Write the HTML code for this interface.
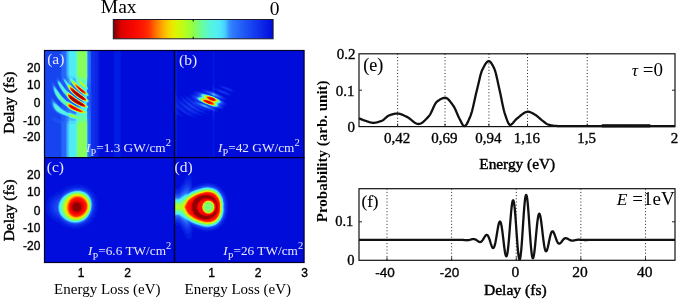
<!DOCTYPE html>
<html><head><meta charset="utf-8"><style>
html,body{margin:0;padding:0;background:#fff;}
body{width:679px;height:302px;overflow:hidden;position:relative;}
svg{position:absolute;left:0;top:0;}
</style></head><body>
<svg width="679" height="302" viewBox="0 0 679 302">
<defs><linearGradient id="cb" x1="0" x2="1" y1="0" y2="0"><stop offset="0.000" stop-color="#780000"/><stop offset="0.025" stop-color="#aa0000"/><stop offset="0.050" stop-color="#dd0000"/><stop offset="0.075" stop-color="#e50200"/><stop offset="0.100" stop-color="#ee0500"/><stop offset="0.125" stop-color="#f60700"/><stop offset="0.150" stop-color="#fb0e00"/><stop offset="0.175" stop-color="#fc1700"/><stop offset="0.200" stop-color="#fe2100"/><stop offset="0.225" stop-color="#ff3500"/><stop offset="0.250" stop-color="#ff5c00"/><stop offset="0.275" stop-color="#ff7f00"/><stop offset="0.300" stop-color="#fea000"/><stop offset="0.325" stop-color="#fcbe00"/><stop offset="0.350" stop-color="#f5d800"/><stop offset="0.375" stop-color="#e7ec00"/><stop offset="0.400" stop-color="#d7f707"/><stop offset="0.425" stop-color="#c5fb13"/><stop offset="0.450" stop-color="#b3ff1f"/><stop offset="0.475" stop-color="#a2ff33"/><stop offset="0.500" stop-color="#90ff48"/><stop offset="0.525" stop-color="#7cff70"/><stop offset="0.550" stop-color="#6bfe96"/><stop offset="0.575" stop-color="#61fab6"/><stop offset="0.600" stop-color="#57f6d6"/><stop offset="0.625" stop-color="#53f2e6"/><stop offset="0.650" stop-color="#51eef1"/><stop offset="0.675" stop-color="#4ee4fb"/><stop offset="0.700" stop-color="#47cdfe"/><stop offset="0.725" stop-color="#3790ff"/><stop offset="0.750" stop-color="#2d78fc"/><stop offset="0.775" stop-color="#286cfa"/><stop offset="0.800" stop-color="#2360f7"/><stop offset="0.825" stop-color="#1e55f5"/><stop offset="0.850" stop-color="#1a4af2"/><stop offset="0.875" stop-color="#153fef"/><stop offset="0.900" stop-color="#1135ec"/><stop offset="0.925" stop-color="#0d2ae9"/><stop offset="0.950" stop-color="#0920e4"/><stop offset="0.975" stop-color="#0416df"/><stop offset="1.000" stop-color="#000cda"/></linearGradient></defs><rect x="113.3" y="19.5" width="159.8" height="19.299999999999997" fill="url(#cb)" stroke="#1a1a2a" stroke-width="1"/><line x1="193.20000000000002" y1="19.5" x2="193.20000000000002" y2="21.5" stroke="#000" stroke-width="1"/><line x1="193.20000000000002" y1="38.8" x2="193.20000000000002" y2="36.8" stroke="#000" stroke-width="1"/><defs><clipPath id="ca"><rect x="44" y="50" width="130.5" height="107"/></clipPath><clipPath id="cb2"><rect x="174.5" y="50" width="130.0" height="107"/></clipPath><clipPath id="cc"><rect x="44" y="157" width="130.5" height="106"/></clipPath><clipPath id="cd"><rect x="174.5" y="157" width="130.0" height="106"/></clipPath><filter id="hb" x="0" y="0" width="1" height="1"><feGaussianBlur stdDeviation="0.65"/></filter></defs><g filter="url(#hb)"><g clip-path="url(#ca)"><rect x="44" y="50" width="130.5" height="107" fill="#000cda"/><path fill-rule="evenodd" fill="#061be2" d="M99.5,157.0 44.0,157.0 44.0,50.0 99.6,50.0 99.5,157.0ZM120.5,157.0 113.6,157.0 113.6,50.0 120.7,50.0 120.7,157.0 120.5,157.0Z"/><path fill-rule="evenodd" fill="#0b25e6" d="M97.5,157.0 44.0,157.0 44.0,50.0 97.8,50.0 97.8,157.0 97.5,157.0Z"/><path fill-rule="evenodd" fill="#0f2fea" d="M94.5,157.0 44.0,157.0 44.0,50.0 94.9,50.0 94.9,157.0 94.5,157.0Z"/><path fill-rule="evenodd" fill="#133aed" d="M91.0,157.0 44.0,157.0 44.0,50.0 91.5,50.0 91.5,86.5 92.3,97.5 91.5,108.0 91.5,157.0 91.0,157.0Z"/><path fill-rule="evenodd" fill="#1745f0" d="M91.0,157.0 44.0,157.0 44.0,50.0 91.2,50.0 91.0,98.5 91.2,110.0 91.2,157.0 91.0,157.0Z"/><path fill-rule="evenodd" fill="#1c4ff3" d="M90.5,157.0 60.5,157.0 60.5,124.0 59.5,124.0 59.0,123.5 58.5,123.5 58.0,123.0 57.5,123.0 57.0,122.5 56.5,122.5 56.0,122.0 55.5,122.0 55.0,121.5 53.5,121.0 52.0,119.5 52.6,118.0 54.0,117.5 56.0,118.0 60.5,119.7 60.7,119.0 60.8,115.5 56.5,113.2 53.4,110.0 51.3,106.0 50.7,103.5 50.6,100.0 50.9,97.5 51.5,97.0 52.5,97.7 58.6,104.5 61.0,106.5 61.1,103.5 56.7,98.5 53.8,93.5 51.7,87.5 51.3,83.5 51.5,80.5 52.0,80.0 52.0,80.5 52.5,80.5 53.6,82.0 58.5,90.5 60.5,93.3 60.9,93.5 61.1,94.0 60.9,90.5 57.3,84.5 55.8,81.0 55.5,79.8 55.1,79.5 55.0,78.5 57.5,77.0 58.5,77.0 60.5,80.8 60.7,80.5 60.5,76.0 60.5,50.0 91.0,50.0 91.0,84.0 90.7,99.0 91.0,110.5 91.0,157.0 90.5,157.0Z"/><path fill-rule="evenodd" fill="#205af6" d="M90.5,157.0 61.2,157.0 61.2,124.0 60.5,121.5 60.6,121.0 61.3,120.5 61.5,120.0 61.7,115.5 57.0,113.0 54.0,110.0 52.7,108.0 51.9,106.0 51.3,103.5 51.1,101.0 51.5,98.6 52.0,98.4 52.5,98.6 58.6,105.0 61.6,107.5 61.9,107.0 62.0,104.0 58.7,100.5 56.7,98.0 54.7,94.5 53.2,91.0 52.3,88.0 52.1,86.0 52.2,84.5 53.0,83.4 53.5,83.5 54.5,84.5 58.5,90.9 61.5,95.0 65.4,99.0 65.7,99.0 65.6,96.0 64.0,94.5 63.0,94.5 62.0,93.5 61.8,91.5 58.0,85.0 56.5,81.0 56.7,79.5 58.0,78.9 59.5,79.9 61.5,82.9 61.7,82.5 61.2,77.0 61.2,50.0 90.8,50.0 90.7,85.5 90.5,90.4 89.8,94.5 89.5,99.0 89.8,103.5 90.0,104.4 90.5,104.7 90.7,110.0 90.8,157.0 90.5,157.0ZM75.7,97.0 73.0,94.5 72.6,94.5 72.6,95.0 75.7,97.0ZM75.7,105.0 73.0,103.0 72.3,103.0 73.0,104.0 75.5,105.5 75.7,105.0Z"/><path fill-rule="evenodd" fill="#2566f8" d="M90.0,157.0 62.0,157.0 62.0,124.5 61.6,122.0 62.0,121.4 63.0,121.5 63.5,121.2 64.9,119.0 65.5,117.0 65.1,116.5 63.0,115.8 58.0,113.2 55.0,110.7 53.7,109.0 52.4,106.5 51.7,104.0 51.5,101.5 52.0,99.6 53.0,99.8 60.4,107.0 63.8,109.5 65.7,110.5 66.1,107.0 65.8,106.5 62.5,103.9 59.0,100.5 56.7,97.5 54.7,94.0 53.3,90.5 52.6,87.5 52.6,85.5 53.0,84.6 53.5,84.4 55.0,85.7 59.5,92.7 63.9,98.0 66.0,99.9 67.5,100.6 68.5,101.4 69.0,101.5 69.4,100.5 69.2,100.0 62.9,92.5 60.8,89.5 57.9,84.5 56.9,81.5 56.9,80.5 57.5,79.7 58.0,79.5 59.0,79.9 64.5,87.6 65.5,88.8 65.9,88.5 65.6,84.5 64.7,83.5 62.7,80.0 61.8,77.5 62.0,50.0 90.5,50.0 90.5,82.5 90.0,84.8 89.0,86.2 88.6,87.5 88.9,89.5 88.5,90.2 87.8,90.5 87.5,91.3 87.5,92.5 88.8,94.0 89.2,95.0 89.2,96.0 88.5,96.7 87.5,96.7 87.4,98.0 87.4,98.5 88.7,100.0 89.2,101.5 88.9,102.5 87.4,103.0 87.5,105.0 88.8,106.5 88.9,107.0 88.9,108.0 88.3,109.0 90.0,109.9 90.5,112.5 90.5,157.0 90.0,157.0ZM78.3,99.0 78.1,98.5 71.5,92.9 71.0,93.0 70.7,93.5 72.3,95.0 76.4,98.0 78.0,99.0 78.3,99.0ZM76.3,105.5 76.4,105.0 72.0,102.2 70.0,100.5 69.6,100.5 69.8,102.0 70.9,103.0 75.2,105.5 76.0,105.9 76.3,105.5Z"/><path fill-rule="evenodd" fill="#2a72fb" d="M89.0,157.0 65.6,157.0 65.5,123.5 65.9,120.5 66.1,116.5 60.5,114.2 56.5,111.7 53.8,108.5 52.8,106.5 52.2,104.5 52.0,101.5 52.5,100.6 53.0,100.6 54.5,101.6 60.6,107.5 66.0,111.1 66.5,111.0 67.5,109.5 68.5,108.7 61.0,102.3 58.4,99.5 56.6,97.0 54.7,93.5 53.3,89.5 52.9,86.5 53.5,85.2 54.0,85.2 55.0,86.2 59.0,92.4 61.5,95.6 66.3,100.5 76.0,106.1 77.0,106.2 77.4,105.5 73.0,102.7 69.6,100.0 67.2,97.5 62.8,92.0 59.8,87.5 57.7,83.5 57.3,81.0 57.5,80.4 58.0,80.1 58.5,80.1 59.5,80.9 64.5,87.9 67.3,91.0 69.0,92.1 74.1,96.5 80.2,100.5 80.3,100.0 80.1,99.5 75.5,96.2 70.0,91.0 69.5,91.5 68.5,89.3 67.5,88.5 66.8,87.5 66.4,85.5 63.9,81.5 62.7,79.0 62.5,78.0 63.0,77.1 64.0,77.3 65.5,79.1 65.8,79.0 65.9,78.5 65.6,75.0 65.6,50.0 89.2,50.0 89.1,78.5 88.8,80.5 87.5,83.1 87.4,86.5 88.5,89.0 88.5,89.5 87.4,90.0 87.3,92.0 87.3,92.5 88.7,94.5 88.9,95.5 88.5,96.4 87.3,96.5 87.1,98.5 88.5,100.0 89.0,101.5 88.5,102.5 87.2,103.0 87.2,105.0 88.6,107.0 88.5,108.0 87.4,109.0 87.4,112.0 87.9,112.5 88.0,114.4 88.8,116.0 89.1,119.5 89.0,157.0ZM76.2,90.0 75.6,88.0 75.0,87.5 74.0,87.5 73.9,88.0 75.4,89.5 76.2,90.0Z"/><path fill-rule="evenodd" fill="#3284fd" d="M87.5,157.0 66.1,157.0 66.1,124.0 66.5,120.3 67.2,117.0 67.0,116.5 61.0,114.1 56.7,111.5 54.2,108.5 53.2,106.5 52.6,104.5 52.5,102.0 53.0,101.5 53.5,101.5 55.0,102.6 61.0,108.1 66.5,111.7 67.5,112.2 68.9,112.0 69.5,110.5 72.5,112.6 75.5,113.4 75.7,112.0 72.5,110.9 69.0,108.8 66.5,106.5 61.5,102.5 57.9,98.5 55.4,94.5 53.8,90.5 53.2,87.0 53.5,86.0 54.0,85.9 55.0,86.7 61.5,95.9 66.5,100.9 68.5,101.8 77.5,107.0 78.2,106.0 78.0,105.5 74.0,103.3 70.0,100.2 67.8,98.0 63.4,92.5 60.3,88.0 57.9,83.5 57.6,81.5 58.0,80.7 58.5,80.6 60.0,81.8 64.0,87.5 67.0,91.0 77.4,99.0 81.5,101.5 81.7,101.0 81.8,100.5 75.0,95.7 69.8,90.5 64.4,82.0 63.3,79.5 63.1,78.5 63.5,78.0 64.0,78.1 67.0,81.2 67.2,81.0 66.5,79.1 66.1,75.0 66.1,50.0 87.8,50.0 87.8,76.5 87.5,78.5 87.2,86.5 88.3,89.0 88.1,89.5 87.1,90.0 87.1,92.0 87.1,92.5 88.6,94.5 88.7,95.5 88.5,96.1 87.0,96.4 86.9,98.5 88.3,100.0 88.8,101.5 88.5,102.2 87.0,102.5 87.0,105.0 88.2,106.5 88.4,107.5 88.3,108.0 87.2,109.0 87.3,112.0 87.6,113.0 87.3,114.5 87.8,124.0 87.8,157.0 87.5,157.0ZM77.7,91.0 76.2,88.5 73.5,85.5 73.0,85.2 72.0,85.6 71.8,86.0 72.2,86.5 74.2,88.5 77.0,91.1 77.5,91.3 77.7,91.0Z"/><path fill-rule="evenodd" fill="#40b2ff" d="M87.0,157.0 66.8,157.0 66.8,125.5 67.2,123.5 68.5,120.6 68.9,117.5 68.8,117.0 68.0,116.5 61.5,114.0 57.0,111.4 54.5,108.5 53.5,106.5 53.0,104.7 53.0,102.8 53.5,102.3 54.0,102.4 55.5,103.4 61.0,108.4 66.0,111.7 67.5,112.5 70.0,112.7 74.7,114.5 75.8,114.5 76.0,112.0 71.5,110.1 69.0,108.5 66.5,106.2 62.0,102.7 58.0,98.3 55.9,95.0 54.4,91.5 53.6,88.0 53.7,87.0 54.0,86.6 54.5,86.7 55.5,87.9 61.5,96.2 66.5,101.2 68.0,101.7 77.5,107.1 78.5,107.4 79.9,106.5 72.5,102.1 70.0,100.1 68.0,98.0 62.8,91.5 59.9,87.0 58.0,83.0 58.0,81.5 58.5,81.1 60.0,82.2 63.7,87.5 66.7,91.0 74.4,97.0 79.5,100.5 82.0,102.0 82.8,102.0 82.9,101.5 83.0,101.0 80.0,99.2 76.0,96.4 70.8,91.5 68.2,88.0 63.8,80.0 63.7,79.0 64.0,78.8 64.5,78.9 67.5,82.4 74.5,89.0 79.9,93.5 82.0,95.0 82.5,95.0 81.0,92.5 80.5,92.4 78.5,90.6 73.2,85.0 71.6,83.0 71.5,82.5 69.5,83.4 68.5,78.7 67.3,76.5 66.8,74.5 66.8,50.0 87.4,50.0 87.4,76.5 87.1,86.5 87.9,88.0 88.0,89.0 87.0,89.5 86.9,92.0 87.0,92.5 88.2,94.0 88.5,95.0 88.5,95.5 88.1,96.0 87.0,96.0 86.8,98.5 88.1,100.0 88.6,101.5 88.0,102.3 86.8,102.5 86.9,105.0 88.1,106.5 88.2,107.5 88.0,108.0 87.0,108.5 87.1,112.0 87.4,113.0 87.1,114.5 87.4,123.5 87.4,157.0 87.0,157.0ZM75.5,82.0 75.5,81.6 75.5,82.0Z"/><path fill-rule="evenodd" fill="#4bd9fd" d="M87.0,157.0 68.5,157.0 68.5,126.0 68.7,124.0 69.5,120.5 72.5,120.7 75.5,120.5 75.6,119.0 74.0,118.9 70.5,117.8 68.0,116.2 62.2,114.0 58.0,111.7 56.5,110.5 55.0,108.7 54.1,107.0 53.5,105.0 53.5,103.5 54.0,103.1 54.5,103.2 56.0,104.3 61.5,109.2 66.5,112.3 67.5,112.9 69.5,112.8 76.1,115.0 76.6,112.5 76.3,112.0 72.0,110.2 69.0,108.4 66.5,106.0 61.6,102.0 58.0,98.0 56.1,95.0 54.6,91.5 54.0,88.5 54.0,87.7 54.5,87.4 56.0,89.0 61.5,96.4 66.5,101.4 68.5,102.1 75.1,106.0 79.1,108.0 80.3,108.0 81.5,107.0 78.5,105.6 73.5,102.7 71.0,100.8 68.5,98.5 66.5,95.6 63.0,91.4 60.5,87.6 58.4,83.5 58.2,82.5 58.5,81.7 59.0,81.7 60.0,82.5 63.2,87.0 66.5,91.1 78.6,100.0 83.5,103.0 83.8,103.0 83.9,102.5 84.2,101.5 80.0,99.1 76.5,96.7 71.4,92.0 68.4,88.0 64.3,80.5 64.2,80.0 64.5,79.5 65.0,79.8 67.8,83.0 69.5,84.2 75.5,90.0 80.5,94.0 84.2,96.5 83.6,94.5 79.0,90.9 73.8,85.5 71.2,82.0 69.6,79.0 68.5,74.5 68.5,50.0 87.2,50.0 87.2,76.5 86.9,86.5 87.8,88.5 87.7,89.0 86.8,89.5 86.8,92.0 88.4,95.0 88.0,95.8 86.8,96.0 86.7,98.5 88.0,100.0 88.4,101.0 88.1,102.0 86.7,102.5 86.7,105.0 88.1,107.0 87.7,108.0 86.8,108.5 87.2,113.0 87.0,114.0 87.2,124.0 87.2,157.0 87.0,157.0ZM76.0,82.5 75.5,78.5 72.0,78.4 75.2,82.0 76.0,82.5Z"/><path fill-rule="evenodd" fill="#50ecf7" d="M87.0,157.0 69.3,157.0 69.5,124.5 75.5,123.4 76.0,119.0 71.0,117.7 69.5,117.0 68.0,115.8 63.1,114.0 58.2,111.5 56.9,110.5 55.6,109.0 54.5,107.2 54.0,105.5 54.0,104.5 54.4,104.0 55.5,104.4 62.0,109.9 67.5,113.2 68.5,112.9 69.5,113.0 76.0,115.2 76.5,115.0 77.5,112.5 72.5,110.3 69.5,108.6 60.4,100.5 57.5,97.0 55.6,93.5 54.4,89.5 54.5,88.4 55.0,88.4 56.0,89.4 61.5,96.7 66.5,101.6 68.5,102.2 75.0,106.0 81.0,109.0 81.5,108.9 82.9,107.5 80.0,106.3 74.5,103.3 71.5,101.2 69.1,99.0 67.8,97.5 66.5,95.4 63.5,91.8 61.0,88.1 58.7,83.5 58.6,82.5 59.0,82.2 60.0,82.9 63.3,87.5 66.5,91.3 68.5,92.5 75.5,98.0 80.0,101.0 84.4,103.5 84.9,103.5 85.0,103.0 85.3,102.0 84.7,101.5 82.0,100.2 78.0,97.7 74.5,94.9 71.5,92.0 68.8,88.5 64.9,81.0 65.0,80.5 67.5,83.1 69.5,84.4 74.9,89.5 78.4,92.5 84.5,96.9 85.4,97.0 85.0,95.0 84.5,94.9 81.5,92.8 76.7,88.5 72.4,83.5 70.3,80.0 69.9,78.5 70.0,78.1 70.5,77.9 76.6,83.5 75.9,78.5 75.0,76.7 74.5,76.1 69.5,75.5 69.3,50.0 87.1,50.0 87.1,76.5 86.8,86.5 87.6,88.5 86.7,89.5 86.6,92.0 86.7,92.5 87.9,94.0 88.2,95.0 88.0,95.6 86.6,96.0 86.5,98.5 87.9,100.0 88.3,101.0 88.0,101.8 86.5,102.5 86.6,105.0 87.9,107.0 87.8,107.5 86.7,108.5 87.1,124.0 87.0,157.0Z"/><path fill-rule="evenodd" fill="#52f0eb" d="M87.5,95.6 85.5,95.3 84.5,94.7 78.5,90.2 73.3,84.5 71.2,81.5 70.4,79.5 70.5,78.4 71.5,78.8 78.2,85.0 77.0,82.0 75.7,77.5 75.6,50.0 87.0,50.0 87.0,76.5 86.7,86.5 87.4,88.5 86.7,89.0 86.6,89.5 86.5,92.0 88.0,94.5 88.0,95.1 87.5,95.6ZM88.0,101.5 87.5,101.9 86.0,102.0 84.0,101.2 79.0,98.3 74.5,94.8 71.6,92.0 69.2,89.0 66.5,83.5 66.3,83.0 66.5,82.5 67.5,83.5 69.5,84.6 78.3,92.5 86.0,98.1 87.7,100.0 88.1,101.0 88.0,101.5ZM86.5,157.0 75.6,157.0 75.6,126.0 76.4,119.0 70.5,117.3 69.1,116.5 68.0,115.3 62.9,113.5 58.1,111.0 56.8,110.0 55.6,108.5 54.8,107.0 54.5,105.5 55.0,104.8 56.0,105.2 62.0,110.3 67.5,113.8 68.5,113.2 69.5,113.2 76.5,115.6 77.0,115.6 78.2,112.5 73.5,110.7 70.0,108.9 68.2,107.5 66.5,105.5 61.1,101.0 58.5,98.0 56.5,95.0 55.0,91.1 55.0,89.3 55.5,89.4 56.5,90.4 62.4,98.0 66.5,101.9 68.5,102.3 75.7,106.5 82.0,109.5 83.0,109.5 84.2,108.0 83.5,107.5 82.5,107.3 80.0,106.2 75.5,103.8 72.5,101.8 69.5,99.3 67.9,97.5 66.5,95.1 62.0,89.3 59.5,84.7 59.1,83.5 59.2,83.0 59.5,82.9 60.0,83.4 66.5,91.6 68.5,92.6 74.0,97.0 78.3,100.0 85.0,104.1 86.0,104.2 87.6,106.5 87.6,107.5 86.6,108.5 87.0,123.5 87.0,157.0 86.5,157.0ZM84.5,90.5 82.5,88.0 80.0,86.3 81.5,88.0 82.5,88.6 84.5,90.5Z"/><path fill-rule="evenodd" fill="#54f4e0" d="M86.0,90.2 84.6,88.0 82.0,85.5 78.5,83.8 76.2,78.0 75.9,74.0 75.9,50.0 86.9,50.0 86.9,76.5 86.6,86.5 87.2,88.0 87.0,88.5 86.3,89.0 86.0,90.2ZM87.5,95.4 86.0,95.3 83.0,93.6 77.4,89.0 74.6,86.0 72.3,83.0 70.9,80.5 70.7,79.0 71.0,78.8 72.0,79.4 79.0,86.0 86.0,91.9 87.6,94.0 87.8,95.0 87.5,95.4ZM87.5,101.7 85.5,101.7 81.5,99.8 77.5,97.2 74.0,94.3 70.8,91.0 68.7,88.0 67.7,85.5 67.5,84.5 67.8,84.0 68.5,84.0 69.5,84.7 77.0,91.5 86.0,98.2 87.9,100.5 88.0,101.0 87.5,101.7ZM86.5,157.0 75.9,157.0 75.9,126.0 77.0,119.0 70.3,117.0 68.8,116.0 67.9,114.5 68.5,113.5 70.0,113.5 77.5,116.1 77.8,116.0 78.5,114.2 80.1,113.5 80.1,113.0 79.0,112.9 78.6,112.5 72.5,110.2 70.0,108.8 68.4,107.5 66.5,105.2 61.4,101.0 58.0,97.0 56.0,93.4 55.4,91.5 55.5,90.3 56.5,90.9 62.1,98.0 66.5,102.1 67.5,102.1 68.5,102.5 76.5,107.0 84.0,110.5 85.9,108.0 84.5,107.9 82.5,107.2 77.5,104.8 74.0,102.8 70.4,100.0 68.0,97.5 66.5,94.8 62.5,89.7 60.5,86.0 60.2,85.0 60.5,84.8 66.5,91.9 68.5,92.7 76.0,98.5 86.0,104.7 87.4,106.5 87.4,107.5 86.1,108.0 86.5,109.6 86.9,123.5 86.9,157.0 86.5,157.0ZM64.5,113.3 60.7,112.0 57.5,110.1 55.7,108.0 55.3,107.0 55.3,106.0 55.5,105.7 56.0,105.8 57.0,106.4 60.5,109.6 64.8,113.0 64.5,113.3Z"/><path fill-rule="evenodd" fill="#5cf8c6" d="M86.5,88.4 85.5,88.2 83.5,86.8 79.0,82.5 77.4,80.0 76.7,78.5 77.1,78.0 76.5,76.5 76.3,74.0 76.2,50.0 86.8,50.0 86.8,76.5 86.5,84.7 86.2,86.0 87.0,88.0 86.5,88.4ZM87.5,95.2 86.0,95.2 84.0,94.2 80.5,91.7 77.5,89.0 74.7,86.0 72.4,83.0 71.0,80.5 71.0,79.3 71.5,79.3 72.5,80.0 78.3,85.5 85.9,92.0 87.5,94.0 87.7,94.5 87.5,95.2ZM87.5,101.6 86.0,101.7 82.5,100.2 78.5,97.8 74.5,94.7 71.3,91.5 69.1,88.5 67.9,86.0 67.8,85.0 68.0,84.3 68.5,84.3 69.5,84.8 77.5,92.0 86.0,98.3 87.7,100.5 87.5,101.6ZM87.0,107.6 85.0,107.8 81.5,106.7 76.5,104.2 71.5,100.9 68.1,97.5 66.5,94.5 63.0,90.0 61.8,87.5 62.0,87.3 62.5,87.8 66.5,92.2 68.5,92.9 76.6,99.0 86.0,105.0 87.3,106.5 87.4,107.0 87.0,107.6ZM86.5,157.0 76.2,157.0 76.3,125.5 76.5,123.2 77.7,119.0 76.7,118.5 73.0,117.8 70.7,117.0 69.1,116.0 68.3,114.5 68.5,113.9 70.0,113.7 78.0,116.3 81.0,115.2 83.0,114.0 82.6,113.5 81.0,113.3 74.0,110.7 71.0,109.3 69.0,107.9 67.6,106.5 66.5,104.9 62.5,101.7 59.0,98.0 56.5,94.0 56.0,92.5 56.0,91.4 57.0,92.0 62.3,98.5 66.5,102.4 67.5,102.3 69.0,102.8 76.3,107.0 85.5,111.5 86.0,110.9 86.5,113.3 86.8,123.5 86.8,157.0 86.5,157.0ZM60.0,110.8 57.5,109.5 56.3,108.0 56.2,107.0 57.0,107.1 58.1,108.0 60.5,110.5 60.0,110.8Z"/><path fill-rule="evenodd" fill="#66fca6" d="M86.5,88.1 85.0,87.7 81.2,84.5 79.3,82.5 77.9,80.5 77.2,79.0 77.5,78.7 78.0,78.8 78.1,78.5 77.0,76.0 76.6,74.0 76.6,50.0 86.7,50.0 86.7,77.0 86.5,81.1 86.0,83.7 82.6,81.0 80.5,80.1 79.5,80.0 81.5,81.6 85.9,86.0 86.7,87.5 86.5,88.1ZM87.0,95.2 85.0,94.7 82.5,93.1 77.1,88.5 74.4,85.5 72.5,83.0 71.2,80.5 71.2,80.0 71.5,79.6 73.0,80.6 85.8,92.0 87.4,94.0 87.5,94.8 87.0,95.2ZM87.0,101.6 86.0,101.6 84.5,101.1 81.5,99.6 78.0,97.4 74.5,94.6 71.9,92.0 69.5,89.0 68.2,86.5 68.0,84.8 68.5,84.5 69.5,85.0 77.4,92.0 86.0,98.5 87.6,100.5 87.5,101.3 87.0,101.6ZM64.0,90.7 64.0,90.2 64.3,90.5 64.0,90.7ZM86.5,107.7 84.5,107.6 80.5,106.1 76.0,103.9 72.0,101.2 69.5,99.0 67.9,97.0 66.5,94.1 64.5,91.5 64.2,91.0 64.5,90.6 66.5,92.6 67.5,92.5 68.5,93.0 76.5,99.0 85.9,105.0 87.2,106.5 87.0,107.4 86.5,107.7ZM85.0,113.8 81.5,113.3 76.5,111.6 72.0,109.7 69.5,108.2 67.7,106.5 66.5,104.5 63.2,102.0 60.0,98.7 57.5,95.3 56.6,93.0 57.0,92.7 57.5,93.1 61.9,98.5 66.5,102.8 67.5,102.4 69.0,102.9 76.2,107.0 84.0,110.8 85.8,112.0 86.0,112.5 86.0,113.2 85.0,113.8ZM86.5,157.0 76.6,157.0 76.6,126.0 76.9,124.0 78.5,119.0 77.9,118.5 73.0,117.6 70.5,116.7 69.0,115.5 68.6,114.5 69.0,114.0 71.0,114.1 79.5,117.1 81.5,117.6 84.0,116.1 86.0,114.3 86.5,117.9 86.7,123.5 86.7,157.0 86.5,157.0Z"/><path fill-rule="evenodd" fill="#72ff85" d="M86.0,80.7 83.0,79.3 78.5,78.0 77.5,75.5 77.3,74.0 77.3,50.0 86.6,50.0 86.6,76.5 86.5,79.0 86.0,80.7ZM86.5,87.5 86.0,87.9 85.0,87.6 82.5,85.7 79.9,83.0 78.4,81.0 77.7,79.5 78.0,79.3 79.0,79.9 82.5,82.8 85.7,86.0 86.5,87.5ZM87.0,95.1 85.5,94.8 83.5,93.7 80.5,91.5 77.7,89.0 72.9,83.5 71.6,81.0 71.5,80.0 72.0,80.1 73.0,80.8 85.7,92.0 87.3,94.0 87.4,94.5 87.0,95.1ZM86.5,101.5 84.0,100.8 81.0,99.3 77.5,96.9 74.0,94.1 71.5,91.5 69.6,89.0 68.3,86.5 68.2,85.0 68.5,84.7 69.0,84.8 70.0,85.5 77.3,92.0 85.9,98.5 87.5,100.5 87.5,101.0 87.0,101.5 86.5,101.5ZM86.5,107.5 85.0,107.6 81.0,106.3 77.0,104.3 73.0,101.9 70.5,99.9 68.3,97.5 66.9,95.0 66.6,93.0 67.5,92.7 68.5,93.1 76.4,99.0 85.0,104.4 86.3,105.5 87.0,106.5 87.1,107.0 86.5,107.5ZM58.0,95.2 58.0,94.7 58.2,95.0 58.0,95.2ZM64.5,102.5 62.0,100.3 59.5,97.5 58.2,95.5 58.5,95.2 64.8,102.0 64.5,102.5ZM65.0,102.8 64.5,102.5 65.0,102.2 65.3,102.5 65.0,102.8ZM65.5,103.1 65.3,103.0 65.5,102.7 65.9,103.0 65.5,103.1ZM84.5,113.5 81.5,113.1 78.0,112.1 74.0,110.6 71.0,109.1 68.8,107.5 67.5,106.0 66.5,104.0 66.7,103.0 67.5,102.6 69.0,103.1 77.0,107.5 84.0,110.9 85.8,112.5 85.5,113.2 84.5,113.5ZM80.5,118.3 76.0,118.0 72.0,117.1 69.8,116.0 69.1,115.0 69.1,114.5 70.0,114.2 71.7,114.5 79.8,117.5 80.8,118.0 80.5,118.3ZM86.5,157.0 77.3,157.0 77.3,126.0 77.5,124.5 78.5,121.4 82.9,120.0 86.0,118.4 86.5,120.6 86.6,123.5 86.5,157.0Z"/><path fill-rule="evenodd" fill="#86ff5c" d="M86.0,78.8 83.0,77.7 79.0,76.8 78.5,76.5 78.2,75.5 77.9,74.0 77.9,50.0 86.5,50.0 86.5,76.0 86.0,78.8ZM86.0,87.7 84.5,87.1 81.4,84.5 78.9,81.5 78.2,80.0 78.5,79.9 79.5,80.5 84.0,84.4 85.9,86.5 86.2,87.5 86.0,87.7ZM87.0,94.8 85.5,94.7 83.5,93.7 78.3,89.5 73.4,84.0 71.9,81.5 71.8,80.5 73.0,81.0 85.1,91.5 86.9,93.5 87.2,94.5 87.0,94.8ZM87.0,101.3 85.0,101.1 82.0,99.8 78.0,97.2 75.0,94.9 72.0,92.0 69.7,89.0 68.4,86.5 68.3,85.5 68.5,85.0 69.0,85.0 70.0,85.6 77.3,92.0 85.8,98.5 87.1,100.0 87.3,101.0 87.0,101.3ZM86.0,107.5 83.5,107.1 80.0,105.8 76.0,103.7 72.0,101.1 69.7,99.0 67.7,96.5 66.9,94.5 66.8,93.5 67.0,93.1 68.0,93.0 69.0,93.5 76.3,99.0 85.7,105.0 86.9,106.5 86.9,107.0 86.0,107.5ZM85.5,113.0 84.5,113.4 82.0,113.1 77.0,111.6 72.5,109.8 70.2,108.5 68.4,107.0 67.3,105.5 66.8,103.5 67.5,102.8 69.5,103.4 76.0,107.1 84.0,111.0 85.3,112.0 85.6,112.5 85.5,113.0ZM78.5,118.0 74.5,117.5 72.2,117.0 70.2,116.0 69.5,114.9 69.8,114.5 70.5,114.4 72.7,115.0 78.8,117.5 78.5,118.0ZM86.0,157.0 77.9,157.0 77.9,126.0 78.1,124.5 78.5,123.2 79.0,122.9 82.5,122.1 86.0,120.9 86.5,124.5 86.5,157.0 86.0,157.0Z"/><path fill-rule="evenodd" fill="#99ff3d" d="M85.5,87.5 83.8,86.5 81.5,84.5 79.4,82.0 78.7,80.5 79.0,80.4 80.5,81.4 84.5,85.0 86.0,87.0 85.5,87.5ZM87.0,94.6 86.0,94.8 84.0,93.9 78.9,90.0 74.2,85.0 72.6,82.5 72.1,81.0 72.5,80.9 73.5,81.5 85.0,91.5 86.8,93.5 87.0,94.6ZM87.0,101.1 85.5,101.2 83.0,100.2 79.5,98.2 75.5,95.2 72.6,92.5 70.4,90.0 68.9,87.5 68.5,85.4 69.0,85.2 70.0,85.8 77.2,92.0 85.2,98.0 87.0,100.0 87.2,100.5 87.0,101.1ZM86.5,107.2 85.5,107.4 84.5,107.3 81.5,106.4 77.0,104.2 73.0,101.7 70.3,99.5 68.5,97.5 67.3,95.5 67.0,93.5 67.5,93.0 69.0,93.6 76.9,99.5 84.9,104.5 86.5,106.0 86.7,106.5 86.5,107.2ZM85.0,113.1 83.0,113.2 80.0,112.5 75.0,110.8 71.5,109.2 69.7,108.0 68.1,106.5 67.2,105.0 67.0,103.5 67.5,103.0 69.0,103.3 76.7,107.5 82.9,110.5 85.1,112.0 85.4,112.5 85.0,113.1ZM76.5,117.4 73.5,117.1 71.5,116.5 70.2,115.5 70.0,115.0 71.0,114.8 73.5,115.5 76.8,117.0 76.5,117.4Z"/><path fill-rule="evenodd" fill="#abff29" d="M85.5,87.2 84.0,86.5 81.7,84.5 79.9,82.5 79.2,81.0 79.5,80.9 81.0,82.0 83.9,84.5 85.6,86.5 85.7,87.0 85.5,87.2ZM86.5,94.7 85.0,94.3 83.0,93.2 78.4,89.5 74.0,84.5 72.5,82.0 72.5,81.3 74.0,82.1 85.0,91.5 86.7,93.5 86.8,94.5 86.5,94.7ZM86.5,101.2 84.5,100.8 81.5,99.4 78.0,97.1 74.5,94.3 71.7,91.5 69.8,89.0 68.7,86.5 68.9,85.5 69.5,85.6 70.5,86.3 77.1,92.0 85.7,98.5 86.6,99.5 87.1,100.5 86.9,101.0 86.5,101.2ZM86.0,107.3 84.0,107.1 80.0,105.7 76.0,103.6 72.5,101.3 69.8,99.0 68.2,97.0 67.2,95.0 67.2,93.5 68.0,93.3 69.0,93.7 76.8,99.5 84.8,104.5 86.4,106.0 86.5,107.0 86.0,107.3ZM84.5,113.1 82.5,113.0 79.0,112.1 75.0,110.7 71.5,109.1 69.8,108.0 68.2,106.5 67.3,105.0 67.2,103.5 68.0,103.1 69.5,103.6 76.5,107.5 83.6,111.0 84.9,112.0 85.1,112.5 84.5,113.1ZM74.5,116.9 72.3,116.5 70.8,115.5 71.5,115.3 72.7,115.5 74.9,116.5 74.5,116.9Z"/><path fill-rule="evenodd" fill="#bcfd19" d="M85.0,87.0 83.5,86.1 81.8,84.5 80.1,82.5 79.8,81.5 81.5,82.5 84.2,85.0 85.3,86.5 85.0,87.0ZM86.5,94.5 85.0,94.3 83.0,93.1 78.5,89.5 74.1,84.5 72.9,82.5 72.8,82.0 73.0,81.7 74.5,82.7 84.9,91.5 86.6,93.5 86.8,94.0 86.5,94.5ZM86.5,101.1 84.5,100.8 82.0,99.6 78.5,97.4 75.0,94.7 72.2,92.0 70.2,89.5 68.9,87.0 69.0,85.7 70.5,86.4 77.0,92.0 85.6,98.5 86.8,100.0 86.9,100.5 86.5,101.1ZM86.0,107.1 84.0,107.1 80.5,105.8 76.5,103.8 72.5,101.2 69.9,99.0 68.3,97.0 67.3,95.0 67.3,94.0 67.5,93.5 68.0,93.4 69.5,94.1 76.8,99.5 84.7,104.5 86.2,106.0 86.4,106.5 86.0,107.1ZM84.0,113.0 82.0,112.9 78.8,112.0 74.5,110.4 71.5,109.0 69.3,107.5 68.0,106.0 67.3,104.5 67.5,103.5 68.5,103.3 69.5,103.7 76.5,107.6 83.5,111.0 84.7,112.0 84.9,112.5 84.0,113.0Z"/><path fill-rule="evenodd" fill="#cef90d" d="M85.0,86.6 83.6,86.0 81.9,84.5 80.3,82.5 80.5,82.0 83.6,84.5 84.9,86.0 85.0,86.6ZM86.5,94.3 85.5,94.3 84.0,93.7 79.7,90.5 75.3,86.0 73.1,82.5 73.5,82.1 74.0,82.4 84.3,91.0 86.2,93.0 86.5,94.3ZM86.0,101.0 83.5,100.3 80.5,98.7 74.5,94.2 72.3,92.0 70.3,89.5 69.0,87.0 69.1,86.0 69.5,85.9 70.5,86.5 76.9,92.0 85.5,98.5 86.7,100.0 86.8,100.5 86.5,100.9 86.0,101.0ZM86.0,107.0 84.5,107.1 81.5,106.2 77.5,104.3 73.0,101.5 70.5,99.5 68.7,97.5 67.6,95.5 67.5,93.8 68.0,93.6 69.5,94.2 76.7,99.5 84.6,104.5 86.1,106.0 86.3,106.5 86.0,107.0ZM84.5,112.6 83.0,112.9 80.5,112.4 75.5,110.8 72.0,109.2 70.1,108.0 68.4,106.5 67.6,105.0 67.5,103.9 67.9,103.5 68.5,103.5 70.5,104.3 76.5,107.6 83.3,111.0 84.5,112.0 84.5,112.6Z"/><path fill-rule="evenodd" fill="#e0f501" d="M86.0,94.3 85.0,94.1 83.0,93.0 78.7,89.5 75.0,85.5 74.0,84.0 73.5,82.5 75.0,83.3 84.7,91.5 86.3,93.5 86.4,94.0 86.0,94.3ZM84.5,86.2 83.9,86.0 82.1,84.5 80.9,83.0 81.0,82.6 83.4,84.5 84.6,86.0 84.5,86.2ZM86.5,100.7 86.0,100.9 85.0,100.8 82.5,99.8 79.0,97.6 76.2,95.5 73.4,93.0 71.1,90.5 69.5,88.0 69.2,86.5 69.5,86.1 70.5,86.6 77.5,92.5 84.8,98.0 86.3,99.5 86.6,100.0 86.5,100.7ZM85.5,107.0 83.5,106.8 80.5,105.7 76.5,103.7 73.0,101.5 70.6,99.5 68.8,97.5 67.7,95.5 67.6,94.0 68.5,93.8 69.5,94.3 76.6,99.5 84.5,104.5 86.0,106.0 86.1,106.5 85.5,107.0ZM84.0,112.7 82.5,112.7 79.5,112.0 75.0,110.5 72.0,109.1 70.2,108.0 68.6,106.5 67.7,105.0 67.7,104.0 68.5,103.6 69.5,103.9 82.2,110.5 84.3,112.0 84.3,112.5 84.0,112.7Z"/><path fill-rule="evenodd" fill="#eee200" d="M86.0,94.2 85.0,94.0 83.5,93.3 79.3,90.0 75.5,86.0 74.1,84.0 73.8,83.0 75.0,83.5 84.1,91.0 86.0,93.0 86.2,93.5 86.0,94.2ZM84.0,85.7 82.8,85.0 81.5,83.4 82.0,83.5 83.2,84.5 84.1,85.5 84.0,85.7ZM86.0,100.8 84.5,100.6 81.5,99.2 75.5,94.9 72.9,92.5 70.8,90.0 69.6,88.0 69.4,86.5 70.0,86.4 71.0,87.1 77.4,92.5 84.8,98.0 86.5,100.0 86.5,100.5 86.0,100.8ZM85.5,106.9 83.5,106.7 80.5,105.6 76.5,103.6 73.0,101.4 70.7,99.5 68.9,97.5 67.8,95.5 67.7,94.5 67.9,94.0 68.5,93.9 69.5,94.4 76.5,99.5 84.4,104.5 85.9,106.0 86.0,106.5 85.5,106.9ZM83.5,112.6 81.6,112.5 78.5,111.7 71.9,109.0 70.0,107.8 68.7,106.5 67.8,105.0 67.9,104.0 68.5,103.8 70.0,104.2 82.0,110.5 84.1,112.0 84.0,112.5 83.5,112.6Z"/><path fill-rule="evenodd" fill="#facd00" d="M86.0,94.0 85.3,94.0 84.0,93.5 79.9,90.5 76.0,86.5 74.6,84.5 74.2,83.5 74.5,83.4 75.5,84.0 84.0,91.0 85.9,93.0 86.0,94.0ZM86.0,100.7 84.5,100.5 82.0,99.4 76.0,95.2 73.5,93.0 71.3,90.5 70.0,88.5 69.5,86.9 70.0,86.6 71.0,87.2 77.3,92.5 84.7,98.0 86.1,99.5 86.4,100.0 86.3,100.5 86.0,100.7ZM85.5,106.7 83.5,106.7 80.5,105.6 76.5,103.6 73.0,101.3 70.8,99.5 69.0,97.5 67.9,95.5 68.0,94.2 68.5,94.1 70.0,94.8 76.5,99.6 84.3,104.5 85.7,106.0 85.8,106.5 85.5,106.7ZM83.0,112.5 78.3,111.5 72.1,109.0 70.4,108.0 68.8,106.5 68.0,105.0 68.0,104.3 68.5,103.9 70.0,104.3 81.8,110.5 83.8,112.0 83.5,112.5 83.0,112.5Z"/><path fill-rule="evenodd" fill="#fdaf00" d="M85.5,93.9 83.0,92.8 79.4,90.0 76.5,87.0 74.5,84.0 75.0,83.9 76.0,84.5 83.9,91.0 85.7,93.0 86.0,93.5 85.5,93.9ZM86.0,100.5 84.5,100.4 82.0,99.3 76.0,95.2 73.6,93.0 71.3,90.5 70.1,88.5 69.8,87.0 70.5,87.0 71.5,87.7 77.3,92.5 84.6,98.0 86.0,99.5 86.2,100.0 86.0,100.5ZM85.5,106.6 84.0,106.7 81.0,105.7 77.0,103.8 73.5,101.6 71.4,100.0 69.4,98.0 68.2,96.0 68.0,94.5 68.5,94.2 70.0,94.9 76.5,99.6 83.5,104.0 85.3,105.5 85.6,106.0 85.5,106.6ZM83.5,112.0 82.5,112.4 80.3,112.0 75.6,110.5 72.5,109.1 69.4,107.0 68.3,105.5 68.2,104.5 68.5,104.1 69.0,104.1 70.5,104.6 81.6,110.5 83.2,111.5 83.5,112.0Z"/><path fill-rule="evenodd" fill="#ff9000" d="M85.5,93.7 83.4,93.0 79.5,90.0 76.2,86.5 75.0,84.3 75.5,84.4 76.5,85.0 83.8,91.0 85.6,93.0 85.8,93.5 85.5,93.7ZM85.5,100.5 83.5,100.0 81.0,98.7 75.3,94.5 72.7,92.0 71.1,90.0 70.0,88.0 70.0,87.1 71.5,87.8 77.2,92.5 84.5,98.0 85.9,99.5 86.0,100.3 85.5,100.5ZM85.0,106.6 83.0,106.4 80.0,105.2 76.0,103.2 73.0,101.2 70.9,99.5 69.1,97.5 68.1,95.5 68.3,94.5 69.0,94.5 70.0,95.0 76.5,99.7 84.1,104.5 85.5,106.0 85.4,106.5 85.0,106.6ZM83.0,112.1 81.5,112.1 79.0,111.5 72.4,109.0 70.5,107.8 69.0,106.5 68.4,105.5 68.4,104.5 69.5,104.4 71.0,105.0 82.3,111.0 82.9,111.5 83.0,112.1Z"/><path fill-rule="evenodd" fill="#ff6e00" d="M85.5,93.6 84.6,93.5 83.5,93.0 80.2,90.5 76.8,87.0 75.7,85.5 75.5,84.7 77.0,85.5 83.2,90.5 85.2,92.5 85.5,93.0 85.5,93.6ZM85.5,100.4 84.0,100.1 81.6,99.0 75.9,95.0 71.5,90.5 70.5,89.0 70.1,87.5 70.5,87.3 71.5,87.9 77.5,92.8 84.4,98.0 85.8,99.5 86.0,100.0 85.5,100.4ZM85.0,106.5 83.5,106.5 80.0,105.2 76.0,103.1 73.0,101.1 71.0,99.5 69.2,97.5 68.2,95.5 68.5,94.6 70.5,95.4 76.5,99.7 84.0,104.5 85.3,106.0 85.0,106.5ZM82.5,112.0 79.2,111.5 72.5,109.0 69.6,107.0 68.8,106.0 68.5,104.9 69.0,104.4 71.0,105.1 82.0,111.0 82.6,111.5 82.5,112.0Z"/><path fill-rule="evenodd" fill="#ff4800" d="M85.0,93.5 82.8,92.5 79.7,90.0 76.5,86.5 75.9,85.5 76.0,85.2 78.0,86.4 83.7,91.0 85.4,93.0 85.0,93.5ZM85.5,100.3 84.0,100.1 82.0,99.2 76.0,95.0 71.6,90.5 70.4,88.5 70.5,87.5 72.0,88.4 84.4,98.0 85.7,99.5 85.8,100.0 85.5,100.3ZM84.5,106.5 82.5,106.1 79.7,105.0 76.0,103.0 73.0,101.1 71.0,99.4 69.3,97.5 68.5,96.0 68.5,94.8 69.0,94.7 70.5,95.5 77.0,100.1 83.9,104.5 85.2,106.0 84.5,106.5ZM82.0,111.8 80.5,111.7 77.9,111.0 72.7,109.0 69.8,107.0 69.0,106.0 68.7,105.0 69.0,104.7 69.5,104.6 71.5,105.4 81.0,110.5 82.3,111.5 82.0,111.8Z"/><path fill-rule="evenodd" fill="#ff2600" d="M85.0,93.3 83.0,92.5 80.3,90.5 77.0,87.0 76.4,86.0 76.5,85.6 78.0,86.5 83.6,91.0 85.0,92.5 85.2,93.0 85.0,93.3ZM85.5,100.1 84.0,100.0 82.0,99.1 76.7,95.5 72.1,91.0 71.0,89.5 70.5,87.9 71.0,87.9 72.0,88.5 83.7,97.5 85.3,99.0 85.6,99.5 85.5,100.1ZM84.5,106.4 82.5,106.1 80.0,105.1 76.0,103.0 73.0,101.0 71.0,99.3 69.4,97.5 68.6,96.0 68.6,95.0 69.5,95.0 70.5,95.6 77.0,100.2 83.1,104.0 84.8,105.5 85.0,106.0 84.5,106.4ZM81.5,111.6 80.0,111.5 76.6,110.5 72.0,108.5 69.4,106.5 68.9,105.5 68.9,105.0 70.0,104.9 71.5,105.5 80.7,110.5 81.9,111.5 81.5,111.6Z"/><path fill-rule="evenodd" fill="#fd1c00" d="M85.0,93.0 84.0,93.0 83.1,92.5 80.4,90.5 77.5,87.5 76.9,86.5 77.0,86.1 82.9,90.5 84.5,92.0 85.0,93.0ZM85.0,100.1 83.0,99.6 81.0,98.5 75.6,94.5 73.0,92.0 71.4,90.0 70.7,88.5 71.0,88.0 84.2,98.0 85.5,99.5 85.4,100.0 85.0,100.1ZM84.5,106.2 83.0,106.1 81.0,105.5 77.0,103.5 74.0,101.7 70.3,98.5 69.1,97.0 68.6,95.5 69.0,95.0 70.5,95.7 77.0,100.3 83.0,104.0 84.7,105.5 84.8,106.0 84.5,106.2ZM81.0,111.4 78.6,111.0 73.1,109.0 70.0,107.0 69.1,105.5 69.5,105.0 71.3,105.5 80.4,110.5 81.1,111.0 81.0,111.4Z"/><path fill-rule="evenodd" fill="#fc1200" d="M84.5,93.0 82.5,92.1 80.0,90.0 77.7,87.5 77.4,87.0 77.5,86.6 83.4,91.0 84.7,92.5 84.5,93.0ZM85.0,100.0 83.5,99.7 81.1,98.5 76.2,95.0 72.2,91.0 71.0,89.0 71.0,88.3 72.5,89.0 83.5,97.5 85.1,99.0 85.3,99.5 85.0,100.0ZM84.5,106.1 83.0,106.1 80.5,105.2 74.0,101.6 70.3,98.5 69.0,96.5 68.8,95.5 69.5,95.3 70.5,95.7 77.0,100.3 82.9,104.0 84.5,105.5 84.5,106.1ZM80.5,111.1 79.1,111.0 77.3,110.5 73.3,109.0 70.2,107.0 69.3,105.5 70.0,105.2 72.0,106.0 80.1,110.5 80.5,111.1Z"/><path fill-rule="evenodd" fill="#fa0900" d="M84.5,92.6 83.4,92.5 80.6,90.5 78.2,88.0 77.9,87.5 78.0,87.0 82.7,90.5 84.2,92.0 84.5,92.6ZM85.0,99.8 83.5,99.6 81.5,98.7 76.3,95.0 73.6,92.5 71.9,90.5 71.2,89.0 71.5,88.6 83.4,97.5 85.0,99.0 85.2,99.5 85.0,99.8ZM84.0,106.1 83.0,106.0 80.2,105.0 74.0,101.5 71.5,99.6 70.0,98.0 69.1,96.5 69.0,95.5 69.5,95.4 71.0,96.1 76.5,100.0 82.7,104.0 84.4,105.5 84.0,106.1ZM79.5,110.6 78.0,110.5 76.1,110.0 72.5,108.5 70.4,107.0 69.6,106.0 69.6,105.5 70.5,105.4 71.8,106.0 78.9,110.0 79.5,110.6Z"/><path fill-rule="evenodd" fill="#f20600" d="M84.0,92.6 82.7,92.0 80.8,90.5 78.8,88.5 78.4,87.5 82.6,90.5 84.1,92.0 84.2,92.5 84.0,92.6ZM85.0,99.6 84.0,99.7 82.5,99.1 77.6,96.0 73.2,92.0 72.0,90.5 71.4,89.0 72.0,89.0 73.0,89.6 82.7,97.0 84.5,98.5 85.0,99.6ZM84.0,105.9 83.0,105.9 80.4,105.0 74.0,101.5 70.5,98.5 69.4,97.0 69.1,96.0 69.5,95.5 71.4,96.5 83.3,104.5 84.2,105.5 84.0,105.9ZM78.0,110.2 75.0,109.5 72.0,108.1 70.1,106.5 70.0,105.7 71.5,106.0 73.5,107.0 78.5,110.0 78.0,110.2Z"/><path fill-rule="evenodd" fill="#e90400" d="M83.5,92.3 80.9,90.5 79.0,88.5 78.9,88.0 82.5,90.5 83.9,92.0 83.5,92.3ZM84.5,99.7 83.5,99.5 81.5,98.6 77.7,96.0 73.8,92.5 72.5,91.0 71.7,89.5 72.0,89.2 72.5,89.4 82.6,97.0 84.7,99.0 84.8,99.5 84.5,99.7ZM84.0,105.6 83.0,105.8 80.5,105.0 74.9,102.0 71.0,98.9 69.5,97.0 69.3,96.0 70.0,95.8 71.3,96.5 76.5,100.2 82.5,104.0 83.7,105.0 84.0,105.6ZM77.0,109.8 75.5,109.5 72.0,108.0 70.7,107.0 70.2,106.0 71.0,105.9 73.3,107.0 77.3,109.5 77.0,109.8Z"/><path fill-rule="evenodd" fill="#e10100" d="M79.5,88.8 79.5,88.5 79.5,88.8ZM83.0,91.9 81.0,90.5 79.5,89.0 80.0,88.8 82.4,90.5 83.4,91.5 83.0,91.9ZM84.5,99.5 83.8,99.5 81.5,98.5 77.8,96.0 73.4,92.0 72.0,90.0 71.9,89.5 73.0,89.9 82.6,97.0 84.3,98.5 84.6,99.0 84.5,99.5ZM83.5,92.1 83.2,92.0 83.5,91.8 83.5,92.1ZM83.5,105.7 82.0,105.5 79.6,104.5 74.2,101.5 70.5,98.3 69.6,97.0 69.5,96.0 70.0,95.9 71.0,96.4 77.0,100.6 82.4,104.0 83.6,105.0 83.8,105.5 83.5,105.7ZM76.0,109.3 73.2,108.5 71.5,107.5 70.6,106.5 71.0,106.1 72.1,106.5 75.5,108.5 76.1,109.0 76.0,109.3Z"/><path fill-rule="evenodd" fill="#c50000" d="M80.5,89.8 80.2,89.5 80.5,89.3 80.9,89.5 80.5,89.8ZM84.0,99.4 81.7,98.5 77.9,96.0 74.0,92.5 72.2,90.0 72.5,89.8 73.0,90.0 83.1,97.5 84.5,99.0 84.0,99.4ZM83.0,91.6 82.5,91.5 80.7,90.0 81.0,89.6 82.7,91.0 83.1,91.5 83.0,91.6ZM83.5,105.5 82.5,105.5 80.8,105.0 74.5,101.6 71.0,98.7 70.0,97.5 69.6,96.5 70.0,96.1 71.0,96.5 77.0,100.7 82.3,104.0 83.4,105.0 83.5,105.5ZM75.0,108.7 74.0,108.6 72.6,108.0 71.3,107.0 71.0,106.5 72.7,107.0 75.1,108.5 75.0,108.7Z"/><path fill-rule="evenodd" fill="#910000" d="M84.0,99.2 82.8,99.0 81.0,98.1 78.0,96.0 74.5,92.8 72.6,90.5 73.0,90.2 73.5,90.5 83.0,97.5 84.0,98.5 84.2,99.0 84.0,99.2ZM81.5,90.6 81.5,90.3 82.0,90.5 81.5,90.6ZM82.5,91.0 82.1,91.0 82.5,91.0ZM83.0,105.5 79.9,104.5 74.4,101.5 71.0,98.6 70.0,97.3 69.8,96.5 70.5,96.4 71.5,96.9 77.0,100.9 82.1,104.0 83.2,105.0 83.0,105.5ZM72.0,107.1 71.8,107.0 72.1,107.0 72.0,107.1ZM73.0,108.0 72.2,107.5 72.5,107.2 73.2,107.5 73.0,108.0ZM73.5,108.1 73.0,108.0 73.9,108.0 73.5,108.1Z"/></g><g clip-path="url(#cb2)"><rect x="174.5" y="50" width="130.0" height="107" fill="#000cda"/><path fill-rule="evenodd" fill="#061be2" d="M214.0,157.0 212.7,157.0 212.6,120.5 212.5,114.0 212.1,112.5 212.3,111.5 211.7,111.0 209.5,110.4 209.0,110.5 210.3,111.5 210.0,111.8 206.0,111.3 205.5,111.1 204.5,111.2 204.2,111.5 207.1,113.5 207.4,114.0 207.0,114.1 204.5,113.8 198.7,112.5 202.8,115.5 203.0,116.0 202.5,116.1 199.0,115.6 191.6,113.5 196.2,117.0 196.3,117.5 195.5,117.6 191.5,116.8 186.5,114.9 182.5,112.7 178.5,109.8 178.0,110.0 178.5,111.5 183.0,115.5 183.7,116.5 182.4,116.5 178.5,114.9 177.9,115.0 177.3,116.0 177.1,124.0 177.1,157.0 174.6,157.0 174.6,50.0 177.1,50.0 177.2,94.5 177.5,96.4 177.9,97.5 179.4,99.0 182.0,100.8 182.2,100.5 180.6,97.0 180.5,96.5 181.0,96.0 182.0,96.4 186.0,99.1 186.3,99.0 184.8,96.0 184.7,95.5 185.0,94.9 186.0,95.2 191.1,98.5 189.3,95.5 189.1,94.5 189.5,94.3 190.5,94.6 193.0,93.6 193.5,92.0 194.0,91.4 195.0,91.1 197.0,91.0 202.5,91.7 202.6,91.5 200.9,90.0 200.8,89.5 201.5,89.0 205.0,89.3 211.4,91.0 212.2,91.0 212.4,90.5 212.2,88.0 212.7,85.5 212.7,50.0 214.3,50.0 214.5,87.1 215.0,87.9 215.5,88.2 220.0,89.3 226.5,91.8 229.8,93.5 231.7,95.0 231.7,95.5 231.0,95.8 227.5,95.4 221.0,93.2 215.5,90.6 215.0,90.6 214.8,91.0 214.6,91.5 214.9,92.0 215.5,92.5 222.5,95.7 226.5,98.5 227.0,99.5 226.6,100.0 223.5,100.1 223.4,100.5 226.0,102.5 226.9,104.0 226.7,105.0 224.5,106.5 224.3,108.0 223.5,109.0 221.5,109.4 216.8,109.0 218.2,110.5 218.5,111.0 218.3,111.5 217.5,111.8 215.0,111.9 214.5,112.5 214.3,157.0 214.0,157.0ZM235.0,92.0 233.5,92.1 231.5,91.8 225.5,89.7 219.9,87.0 218.8,86.0 218.9,85.5 220.0,85.3 222.5,85.6 229.0,87.8 234.2,90.5 235.1,91.5 235.0,92.0ZM179.1,104.0 178.5,103.0 178.5,103.6 179.1,104.0ZM208.7,110.0 208.3,110.0 208.7,110.0Z"/><path fill-rule="evenodd" fill="#0b25e6" d="M213.5,52.5 213.5,52.0 213.5,52.5ZM213.5,53.0 213.5,52.5 213.5,53.0ZM213.5,53.5 213.5,53.0 213.5,53.5ZM213.5,54.0 213.5,53.5 213.5,54.0ZM213.5,54.5 213.5,54.0 213.5,54.5ZM213.5,157.0 213.5,121.0 213.3,114.0 212.9,111.5 211.7,110.5 205.0,108.4 204.6,108.5 206.4,110.0 205.5,110.2 203.0,109.5 198.5,107.8 195.0,105.9 194.5,105.9 193.5,104.9 193.1,105.0 202.6,111.5 203.2,112.0 203.4,112.5 200.5,112.1 196.5,110.7 191.5,108.3 188.5,106.2 184.8,102.5 183.4,100.5 182.7,99.0 183.0,98.4 184.0,98.8 191.6,104.0 192.5,104.6 192.9,104.5 188.7,100.5 187.3,98.5 187.0,97.4 188.0,97.6 192.5,100.4 194.5,100.5 194.0,100.4 194.0,100.0 191.9,97.5 191.7,96.0 192.5,95.3 194.9,94.5 195.2,94.0 195.4,92.5 196.0,92.1 197.0,91.8 199.0,91.8 204.8,93.0 205.8,93.0 203.3,91.0 203.1,90.5 203.5,90.0 204.0,89.9 207.0,90.2 212.0,91.5 212.6,91.5 213.1,91.0 212.8,88.0 213.5,85.5 213.5,54.5 213.5,86.0 214.6,89.0 214.0,91.0 214.0,91.5 215.0,92.6 221.5,95.7 224.7,98.0 225.0,99.0 224.5,99.2 221.0,99.1 221.0,99.5 224.4,102.0 225.4,103.5 225.0,104.5 223.0,105.7 222.8,107.5 222.0,108.4 219.5,108.7 215.0,108.0 215.0,108.5 216.4,110.0 216.5,110.5 214.5,111.4 214.0,112.0 213.5,121.0 213.5,157.0ZM231.5,91.0 229.0,90.5 224.9,89.0 222.2,87.5 221.6,87.0 221.8,86.5 225.0,86.9 229.3,88.5 231.2,89.5 232.3,90.5 232.0,91.0 231.5,91.0ZM176.0,122.4 175.5,121.2 175.3,115.0 174.5,111.5 174.5,108.5 174.9,107.0 174.5,103.0 174.5,101.0 175.1,99.5 175.0,95.5 176.0,88.0 176.1,93.5 177.3,99.0 176.7,101.5 177.5,103.9 179.0,105.7 189.2,113.5 190.4,114.5 190.6,115.0 188.0,114.5 185.0,113.2 181.5,111.0 178.0,108.1 177.4,108.0 177.0,108.2 176.8,109.0 177.4,112.5 176.3,115.5 176.0,122.4ZM229.0,94.7 226.5,94.6 222.0,93.2 217.4,91.0 216.2,90.0 216.0,89.5 217.0,89.2 218.5,89.4 223.5,91.0 228.6,93.5 229.3,94.5 229.0,94.7ZM198.5,114.2 196.5,114.1 193.5,113.2 189.5,111.4 186.0,109.3 183.5,107.3 180.9,104.5 179.2,102.0 178.9,101.0 178.9,100.5 179.5,100.5 181.0,101.4 197.5,113.0 198.6,114.0 198.5,114.2ZM204.2,108.0 203.8,108.0 204.2,108.0Z"/><path fill-rule="evenodd" fill="#0f2fea" d="M229.5,89.6 229.0,89.7 227.6,89.5 224.5,88.0 225.0,87.7 226.5,88.0 228.9,89.0 229.5,89.6ZM227.0,94.0 225.0,93.7 222.6,93.0 219.3,91.5 218.0,90.5 218.5,90.0 219.0,90.0 222.6,91.0 226.8,93.0 227.3,93.5 227.0,94.0ZM214.0,111.2 213.5,111.4 212.0,110.3 207.0,108.8 202.0,106.9 201.5,107.0 201.0,106.5 200.8,106.5 203.4,108.5 203.0,108.8 202.0,108.6 198.5,107.2 195.0,105.3 192.0,103.0 189.5,100.5 188.9,99.5 189.0,99.2 190.0,99.5 193.0,101.2 195.9,101.0 194.5,99.5 194.6,99.0 193.2,97.5 192.9,96.5 193.5,95.8 196.1,95.0 196.5,94.5 196.6,93.0 197.5,92.4 200.5,92.4 208.0,94.0 208.2,94.0 205.4,92.0 204.6,91.0 205.0,90.7 206.5,90.6 212.0,91.8 213.5,91.7 215.2,93.0 221.0,95.8 223.4,97.5 223.7,98.0 223.7,98.5 223.0,98.7 219.5,98.4 218.8,98.5 223.3,101.5 224.2,102.5 224.4,103.5 224.0,104.2 222.0,105.2 221.8,107.0 221.6,107.5 220.9,108.0 219.0,108.3 214.5,107.8 214.3,108.0 215.4,110.0 214.0,111.2ZM200.5,111.1 199.0,111.1 196.5,110.2 191.0,107.3 186.4,103.5 184.8,101.5 184.5,100.4 185.5,100.5 187.0,101.5 198.7,109.5 200.5,111.1ZM199.1,101.5 198.9,101.5 199.1,101.5ZM177.0,106.6 176.0,106.8 175.3,105.5 174.9,103.0 175.5,101.7 176.0,102.1 177.5,105.5 177.5,106.0 177.0,106.6ZM195.0,112.8 193.5,112.5 191.0,111.6 186.0,108.6 182.1,105.0 181.1,103.5 181.0,102.6 183.0,103.5 193.5,111.0 195.3,112.5 195.0,112.8ZM184.5,111.6 182.4,110.5 180.2,108.5 180.5,108.3 181.0,108.5 182.4,109.5 184.2,111.0 184.7,111.5 184.5,111.6ZM176.0,112.9 175.5,112.4 175.2,111.0 175.5,109.4 176.0,109.7 176.5,111.5 176.0,112.9Z"/><path fill-rule="evenodd" fill="#133aed" d="M225.0,93.0 222.5,92.5 220.5,91.5 220.3,91.0 221.1,91.0 224.0,92.0 224.8,92.5 225.0,93.0ZM214.0,110.7 213.5,110.9 212.0,109.9 206.0,108.2 199.0,105.3 198.5,105.5 200.5,107.0 200.7,107.5 199.0,107.0 193.8,104.0 191.5,102.0 190.9,101.0 191.5,101.0 194.5,102.6 195.0,103.1 194.2,102.0 195.0,101.5 197.5,101.6 200.0,102.5 201.0,102.7 201.5,102.5 198.0,100.7 194.8,98.5 193.9,97.5 193.9,96.5 194.8,96.0 197.0,95.4 197.4,95.0 197.4,93.5 198.5,92.8 202.0,92.9 210.5,95.0 210.7,95.0 210.0,94.9 210.0,94.5 206.7,92.5 205.8,91.5 206.5,91.1 207.5,91.1 212.0,92.1 213.5,92.1 215.0,93.1 220.0,95.5 222.2,97.0 222.7,98.0 222.0,98.3 216.4,97.5 222.2,101.0 223.3,102.0 223.7,103.0 223.1,104.0 221.1,105.0 221.0,107.0 220.5,107.6 218.5,107.9 214.0,107.5 213.8,108.0 214.7,109.5 214.6,110.0 214.0,110.7ZM197.5,110.0 194.0,108.6 190.5,106.5 187.5,104.0 186.4,102.5 186.3,102.0 188.5,103.0 195.8,108.0 197.8,109.5 197.5,110.0ZM202.1,103.0 201.9,103.0 202.1,103.0ZM196.6,104.0 196.4,104.0 196.6,104.0ZM192.0,111.1 190.0,110.5 187.3,109.0 184.8,107.0 183.1,105.0 183.5,104.8 184.0,105.0 185.6,106.0 191.2,110.0 192.2,111.0 192.0,111.1ZM198.3,105.0 197.8,105.0 198.3,105.0ZM212.8,107.5 212.6,107.0 211.6,106.5 210.3,106.5 212.0,107.4 212.8,107.5Z"/><path fill-rule="evenodd" fill="#1745f0" d="M214.0,110.2 213.5,110.4 212.0,109.6 208.5,108.8 205.0,107.7 200.0,105.6 196.3,103.5 195.3,102.5 195.8,102.0 198.5,102.3 205.0,104.2 205.3,104.5 206.4,104.5 205.5,104.4 197.0,99.8 194.8,98.0 194.6,97.0 195.0,96.5 198.0,95.6 198.3,93.5 200.0,93.0 203.5,93.4 210.9,95.5 212.0,95.7 212.2,95.5 207.3,92.5 206.9,92.0 207.5,91.5 213.5,92.4 220.3,96.0 221.5,97.0 221.8,97.5 221.5,97.8 219.5,97.8 215.0,96.6 214.9,97.0 220.0,99.7 222.8,102.0 223.1,103.0 222.8,103.5 220.5,104.7 220.5,106.5 220.0,107.2 218.0,107.7 213.5,107.3 212.1,106.5 207.7,105.0 206.5,105.0 207.5,105.3 212.0,107.8 213.5,108.1 214.3,109.5 214.0,110.2ZM194.5,103.6 194.2,103.5 194.6,103.5 194.5,103.6ZM194.5,108.2 192.8,107.5 190.5,106.0 188.5,103.9 190.0,104.5 193.0,106.5 194.9,108.0 194.5,108.2ZM195.0,104.1 194.8,104.0 195.0,103.8 195.5,104.0 195.0,104.1ZM196.0,104.7 195.4,104.5 195.5,104.1 196.2,104.5 196.0,104.7ZM196.5,105.1 196.3,105.0 196.8,105.0 196.5,105.1Z"/><path fill-rule="evenodd" fill="#1c4ff3" d="M219.5,107.0 217.5,107.4 213.5,107.0 206.0,104.2 200.5,101.6 196.9,99.5 195.3,98.0 195.3,97.0 198.6,96.0 198.9,95.5 198.8,94.0 199.3,93.5 200.5,93.2 204.5,93.7 211.9,96.0 213.0,96.0 211.9,95.0 208.5,93.0 208.0,92.5 208.0,92.2 209.0,91.9 213.5,92.6 219.1,95.5 220.9,97.0 220.7,97.5 220.0,97.6 215.0,96.3 214.0,96.5 220.1,100.0 222.4,102.0 222.5,103.0 222.0,103.5 219.8,104.5 219.9,106.5 219.5,107.0ZM213.5,109.9 212.0,109.2 210.0,109.0 207.0,108.2 202.0,106.3 197.6,104.0 196.4,103.0 196.4,102.5 198.0,102.5 200.0,102.9 206.5,105.2 212.0,108.1 213.5,108.6 213.9,109.5 213.5,109.9Z"/><path fill-rule="evenodd" fill="#205af6" d="M220.0,97.1 218.5,97.1 213.5,95.9 209.6,93.5 208.8,92.5 210.0,92.4 213.5,92.8 218.7,95.5 219.9,96.5 220.0,97.1ZM218.5,107.1 217.0,107.2 213.5,106.9 206.5,104.3 202.0,102.3 197.9,100.0 196.1,98.5 195.7,97.5 196.5,96.9 198.5,96.5 199.5,96.0 199.3,94.5 199.5,94.0 201.0,93.5 204.5,93.9 211.5,96.0 213.5,96.4 219.9,100.0 221.2,101.0 222.0,102.0 221.9,103.0 219.7,104.0 219.3,104.5 219.4,106.5 218.5,107.1ZM211.5,108.7 210.5,108.8 209.0,108.6 203.5,106.7 198.8,104.5 197.5,103.5 197.2,103.0 198.0,102.8 199.5,103.0 205.0,104.8 209.8,107.0 211.3,108.0 211.7,108.5 211.5,108.7Z"/><path fill-rule="evenodd" fill="#2566f8" d="M219.0,96.8 217.5,96.7 213.5,95.7 209.7,93.0 210.5,92.7 213.5,93.0 218.2,95.5 219.3,96.5 219.0,96.8ZM217.5,107.0 213.5,106.7 204.5,103.3 198.2,100.0 196.4,98.5 196.3,97.5 197.2,97.0 199.8,96.5 200.1,96.0 199.8,94.5 200.2,94.0 201.5,93.7 205.5,94.2 213.5,96.6 219.6,100.0 220.9,101.0 221.6,102.0 221.4,103.0 218.9,104.0 219.0,106.2 218.5,106.7 217.5,107.0ZM210.5,108.4 207.6,108.0 203.5,106.6 200.1,105.0 198.1,103.5 199.0,103.2 200.5,103.4 205.0,104.9 209.4,107.0 210.7,108.0 210.5,108.4Z"/><path fill-rule="evenodd" fill="#2a72fb" d="M218.0,96.5 213.5,95.5 210.7,93.5 211.0,93.2 213.5,93.2 217.7,95.5 218.3,96.0 218.0,96.5ZM218.0,106.6 216.5,106.8 213.5,106.6 207.0,104.3 199.2,100.5 197.2,99.0 196.7,98.0 196.9,97.5 197.5,97.2 200.5,96.5 200.3,94.5 201.0,94.0 202.0,93.9 205.5,94.3 213.5,96.7 218.6,99.5 221.1,101.5 221.3,102.0 221.0,102.8 218.4,104.0 218.7,106.0 218.0,106.6ZM209.5,108.1 207.0,107.6 203.7,106.5 200.5,105.0 199.2,104.0 199.5,103.6 200.5,103.7 204.8,105.0 209.0,107.0 209.7,107.5 209.9,108.0 209.5,108.1Z"/><path fill-rule="evenodd" fill="#3284fd" d="M217.0,96.0 213.5,95.3 211.8,94.0 211.7,93.5 213.5,93.4 217.2,95.5 217.4,96.0 217.0,96.0ZM217.5,106.5 213.5,106.5 206.0,103.8 199.4,100.5 197.5,99.0 197.1,98.0 198.0,97.4 200.6,97.0 201.1,96.5 200.7,95.0 200.9,94.5 202.0,94.1 204.0,94.2 206.5,94.7 213.5,96.8 218.4,99.5 220.8,101.5 220.8,102.5 220.1,103.0 218.3,103.5 218.0,103.9 218.3,106.0 217.5,106.5ZM209.0,107.5 207.5,107.5 204.2,106.5 201.0,105.0 200.3,104.5 200.1,104.0 201.0,104.0 204.4,105.0 207.7,106.5 209.0,107.5Z"/><path fill-rule="evenodd" fill="#40b2ff" d="M215.5,95.3 213.5,95.2 212.3,94.0 213.0,93.5 213.5,93.6 215.7,95.0 215.5,95.3ZM216.5,106.5 213.5,106.4 204.0,102.8 198.9,100.0 197.8,99.0 197.6,98.0 198.5,97.5 201.5,97.0 201.1,95.0 201.5,94.5 202.5,94.3 206.5,94.8 213.5,97.0 218.3,99.5 219.7,100.5 220.5,101.5 220.4,102.5 217.7,103.5 217.6,104.0 218.0,105.5 217.8,106.0 216.5,106.5ZM207.5,107.1 206.3,107.0 203.5,106.0 201.6,105.0 201.2,104.5 202.1,104.5 205.2,105.5 207.2,106.5 207.8,107.0 207.5,107.1Z"/><path fill-rule="evenodd" fill="#4bd9fd" d="M214.0,95.1 212.9,94.5 212.8,94.0 213.5,93.8 214.0,94.1 214.5,94.5 214.5,95.0 214.0,95.1ZM217.0,106.2 213.5,106.3 206.0,103.6 199.8,100.5 198.1,99.0 198.0,98.2 198.5,97.8 201.5,97.3 202.0,97.0 201.5,95.0 202.0,94.6 203.0,94.4 206.5,94.9 213.5,97.0 218.1,99.5 219.5,100.5 220.2,101.5 220.3,102.0 219.9,102.5 217.2,103.5 217.7,105.5 217.0,106.2ZM204.0,105.8 203.2,105.5 204.5,105.5 204.0,105.8ZM205.5,106.3 204.2,106.0 204.5,105.5 205.6,106.0 205.5,106.3ZM206.0,106.5 205.7,106.5 206.2,106.5 206.0,106.5Z"/><path fill-rule="evenodd" fill="#50ecf7" d="M213.5,94.6 213.5,94.3 213.9,94.5 213.5,94.6ZM216.5,106.2 213.5,106.2 206.5,103.7 200.0,100.5 198.8,99.5 198.3,98.5 199.0,97.9 202.1,97.5 202.4,97.0 201.8,95.5 202.0,95.0 203.0,94.6 206.5,95.0 213.5,97.1 217.9,99.5 219.3,100.5 220.0,101.5 220.0,102.0 219.5,102.4 217.0,103.2 216.8,103.5 217.4,105.5 216.5,106.2Z"/><path fill-rule="evenodd" fill="#52f0eb" d="M216.0,106.1 213.5,106.1 205.5,103.2 200.2,100.5 199.0,99.5 198.7,98.5 199.5,98.0 202.8,97.5 202.2,95.5 202.5,95.0 203.5,94.7 207.5,95.3 213.5,97.2 217.8,99.5 219.1,100.5 219.7,101.5 219.6,102.0 219.0,102.4 216.6,103.0 216.5,103.5 217.1,105.0 217.0,105.5 216.0,106.1Z"/><path fill-rule="evenodd" fill="#54f4e0" d="M215.0,106.0 213.0,105.9 204.5,102.7 199.7,100.0 199.0,99.0 199.1,98.5 200.0,98.1 203.0,97.8 203.3,97.5 202.5,95.5 203.1,95.0 204.0,94.9 207.5,95.4 213.5,97.3 218.3,100.0 219.4,101.5 219.0,102.2 216.1,103.0 216.8,105.0 216.7,105.5 215.0,106.0Z"/><path fill-rule="evenodd" fill="#5cf8c6" d="M216.0,105.7 213.5,105.9 207.0,103.7 201.3,101.0 199.9,100.0 199.3,99.0 199.5,98.5 200.0,98.3 203.5,98.0 203.7,97.5 202.9,96.0 202.9,95.5 204.0,95.0 207.5,95.4 213.5,97.3 217.4,99.5 219.1,101.0 219.2,101.5 218.9,102.0 216.5,102.5 215.8,103.0 216.6,105.0 216.0,105.7Z"/><path fill-rule="evenodd" fill="#66fca6" d="M215.5,105.7 213.5,105.8 206.0,103.3 201.5,101.0 200.2,100.0 199.6,99.0 200.5,98.4 204.1,98.0 203.2,96.0 203.3,95.5 204.5,95.1 208.0,95.6 213.5,97.4 217.3,99.5 218.8,101.0 218.9,101.5 218.4,102.0 215.8,102.5 215.5,102.8 216.3,105.0 215.5,105.7Z"/><path fill-rule="evenodd" fill="#72ff85" d="M215.0,105.6 213.0,105.6 206.0,103.2 200.9,100.5 200.0,99.5 199.9,99.0 201.0,98.5 204.0,98.4 204.5,98.1 203.5,96.0 203.8,95.5 204.5,95.3 208.0,95.7 213.5,97.5 217.1,99.5 218.6,101.0 218.6,101.5 218.0,101.9 215.2,102.5 215.2,103.0 216.0,105.0 215.0,105.6Z"/><path fill-rule="evenodd" fill="#86ff5c" d="M214.5,105.6 213.5,105.7 210.0,104.7 204.6,102.5 201.1,100.5 200.2,99.5 200.3,99.0 201.5,98.6 204.8,98.5 204.9,98.0 203.8,96.0 204.3,95.5 205.0,95.4 208.5,95.9 213.5,97.5 217.0,99.5 218.4,101.0 218.0,101.7 214.8,102.5 215.8,104.5 215.7,105.0 214.5,105.6Z"/><path fill-rule="evenodd" fill="#99ff3d" d="M214.0,105.6 209.0,104.3 203.7,102.0 200.8,100.0 200.5,99.5 200.7,99.0 205.5,98.5 204.2,96.5 204.1,96.0 205.0,95.6 208.5,96.0 214.0,97.8 216.8,99.5 218.1,101.0 218.0,101.5 217.5,101.7 215.0,102.1 214.6,102.5 215.5,104.7 215.0,105.3 214.0,105.6Z"/><path fill-rule="evenodd" fill="#abff29" d="M215.0,105.1 213.5,105.5 207.5,103.6 203.0,101.5 201.5,100.5 200.8,99.5 201.3,99.0 202.0,98.9 205.5,98.9 205.9,98.5 204.4,96.5 204.5,96.0 205.5,95.7 208.5,96.1 213.5,97.7 216.7,99.5 217.7,100.5 217.9,101.0 217.5,101.5 214.5,102.1 214.3,102.5 215.3,104.5 215.0,105.1Z"/><path fill-rule="evenodd" fill="#bcfd19" d="M214.5,105.2 213.0,105.3 206.1,103.0 202.3,101.0 201.2,100.0 201.1,99.5 202.2,99.0 206.4,99.0 204.7,96.5 204.9,96.0 205.5,95.8 208.0,96.0 213.5,97.7 216.5,99.5 217.5,100.5 217.7,101.0 217.0,101.5 214.2,102.0 214.1,102.5 215.1,104.5 214.5,105.2Z"/><path fill-rule="evenodd" fill="#cef90d" d="M214.5,105.0 213.0,105.2 206.5,103.1 202.5,101.0 201.5,100.0 201.4,99.5 202.5,99.1 206.0,99.3 207.0,99.0 205.2,97.0 205.0,96.5 205.5,96.0 208.5,96.2 213.5,97.8 216.4,99.5 217.3,100.5 217.4,101.0 217.0,101.3 213.9,102.0 214.8,104.0 214.9,104.5 214.5,105.0Z"/><path fill-rule="evenodd" fill="#e0f501" d="M214.0,105.1 213.0,105.1 210.5,104.5 205.3,102.5 202.1,100.5 201.7,100.0 201.8,99.5 203.5,99.2 207.6,99.5 205.4,97.0 205.3,96.5 206.0,96.1 209.0,96.4 213.5,97.8 216.2,99.5 217.1,100.5 217.1,101.0 216.5,101.3 214.5,101.5 213.5,102.0 214.6,104.0 214.7,104.5 214.0,105.1Z"/><path fill-rule="evenodd" fill="#eee200" d="M213.5,105.1 210.5,104.4 206.6,103.0 203.6,101.5 202.3,100.5 202.0,99.9 202.3,99.5 203.5,99.4 208.0,99.8 208.2,99.5 205.6,97.0 205.6,96.5 206.5,96.2 209.0,96.5 213.5,97.9 216.1,99.5 216.9,100.5 216.8,101.0 216.0,101.3 213.5,101.6 212.1,101.5 213.5,102.5 214.4,104.0 214.5,104.5 213.5,105.1Z"/><path fill-rule="evenodd" fill="#facd00" d="M214.0,104.8 213.5,105.0 211.0,104.5 206.7,103.0 203.7,101.5 202.5,100.5 202.3,100.0 203.5,99.5 209.0,100.2 209.4,100.0 206.2,97.5 205.9,97.0 206.0,96.5 206.5,96.3 209.0,96.6 213.5,98.0 215.9,99.5 216.7,100.5 216.4,101.0 214.0,101.4 211.5,100.9 210.9,101.0 213.5,102.7 214.3,104.0 214.0,104.8ZM210.1,100.5 209.9,100.5 210.1,100.5Z"/><path fill-rule="evenodd" fill="#fdaf00" d="M215.5,101.1 213.5,101.3 210.5,100.3 207.5,98.5 206.2,97.0 206.5,96.5 208.0,96.5 213.5,98.0 216.2,100.0 216.5,100.5 215.5,101.1ZM214.0,104.6 213.0,104.8 208.1,103.5 203.9,101.5 202.7,100.5 202.6,100.0 203.5,99.7 205.0,99.7 210.0,100.8 213.5,103.0 214.1,104.0 214.0,104.6Z"/><path fill-rule="evenodd" fill="#ff9000" d="M214.5,101.0 213.5,101.1 210.0,99.9 207.5,98.3 206.4,97.0 207.0,96.6 208.5,96.6 213.5,98.1 216.1,100.0 216.2,100.5 216.0,100.7 214.5,101.0ZM213.5,104.7 210.5,104.2 207.0,103.0 204.1,101.5 202.9,100.5 202.9,100.0 204.0,99.8 206.0,100.0 210.5,101.3 213.5,103.2 214.0,104.0 213.5,104.7Z"/><path fill-rule="evenodd" fill="#ff6e00" d="M215.5,100.7 213.5,101.0 211.0,100.2 208.0,98.5 206.9,97.5 206.8,97.0 207.5,96.7 209.0,96.8 213.1,98.0 215.4,99.5 215.9,100.5 215.5,100.7ZM213.5,104.5 211.0,104.2 208.5,103.5 205.1,102.0 203.2,100.5 203.5,100.0 205.0,99.9 207.5,100.4 210.0,101.2 213.1,103.0 213.8,104.0 213.5,104.5Z"/><path fill-rule="evenodd" fill="#ff4800" d="M215.5,100.5 213.5,100.9 210.5,99.8 207.6,98.0 207.2,97.5 207.1,97.0 209.5,97.0 213.5,98.3 215.3,99.5 215.6,100.0 215.5,100.5ZM213.5,104.1 213.0,104.4 211.5,104.2 208.7,103.5 205.2,102.0 203.5,100.5 204.0,100.1 205.0,100.1 209.0,101.0 212.8,103.0 213.4,103.5 213.5,104.1Z"/><path fill-rule="evenodd" fill="#ff2600" d="M215.0,100.6 213.5,100.8 210.5,99.7 207.8,98.0 207.4,97.5 207.5,97.2 208.0,97.0 209.0,97.0 213.5,98.3 215.4,100.0 215.0,100.6ZM213.0,104.2 210.6,104.0 207.5,103.0 204.6,101.5 203.8,100.5 204.5,100.2 206.0,100.3 209.5,101.3 212.5,103.0 213.1,103.5 213.3,104.0 213.0,104.2Z"/><path fill-rule="evenodd" fill="#fd1c00" d="M214.5,100.6 213.5,100.6 210.5,99.6 208.6,98.5 207.7,97.5 208.5,97.1 209.5,97.2 213.5,98.4 214.4,99.0 215.2,100.0 214.5,100.6ZM212.5,104.0 211.0,104.0 207.7,103.0 204.8,101.5 204.3,101.0 204.2,100.5 206.5,100.5 209.5,101.4 212.3,103.0 212.8,103.5 212.5,104.0Z"/><path fill-rule="evenodd" fill="#fc1200" d="M214.0,100.5 213.0,100.4 210.0,99.2 208.3,98.0 208.1,97.5 209.0,97.3 210.0,97.4 213.5,98.5 214.7,99.5 214.9,100.0 214.0,100.5ZM212.0,103.8 210.5,103.8 207.9,103.0 205.8,102.0 204.5,101.0 204.8,100.5 205.5,100.5 209.0,101.3 212.0,103.0 212.4,103.5 212.0,103.8Z"/><path fill-rule="evenodd" fill="#fa0900" d="M214.5,100.2 213.5,100.4 210.9,99.5 209.1,98.5 208.6,98.0 208.5,97.5 210.1,97.5 213.3,98.5 214.6,99.5 214.5,100.2ZM211.5,103.7 210.0,103.6 208.2,103.0 206.0,102.0 204.8,101.0 206.0,100.7 209.2,101.5 211.7,103.0 212.0,103.5 211.5,103.7Z"/><path fill-rule="evenodd" fill="#f20600" d="M214.0,100.2 213.0,100.2 211.2,99.5 208.9,98.0 209.5,97.6 210.0,97.6 213.1,98.5 214.4,99.5 214.4,100.0 214.0,100.2ZM211.5,103.5 210.1,103.5 208.4,103.0 206.2,102.0 205.2,101.0 206.5,100.9 208.9,101.5 210.9,102.5 211.5,103.0 211.5,103.5Z"/><path fill-rule="evenodd" fill="#e90400" d="M214.0,100.1 213.0,100.1 211.6,99.5 209.7,98.5 209.3,98.0 210.5,97.9 213.0,98.6 214.2,99.5 214.0,100.1ZM211.0,103.3 210.0,103.3 207.4,102.5 205.8,101.5 206.0,101.0 208.0,101.3 209.8,102.0 211.2,103.0 211.0,103.3Z"/><path fill-rule="evenodd" fill="#e10100" d="M213.5,100.0 210.8,99.0 210.0,98.5 209.9,98.0 213.5,98.9 214.0,99.5 213.5,100.0ZM210.5,103.1 209.1,103.0 207.7,102.5 206.2,101.5 207.0,101.3 208.1,101.5 210.3,102.5 210.8,103.0 210.5,103.1Z"/><path fill-rule="evenodd" fill="#c50000" d="M213.5,99.7 212.4,99.5 210.4,98.5 211.5,98.4 213.3,99.0 213.7,99.5 213.5,99.7ZM207.0,101.6 207.4,101.5 207.0,101.6ZM209.5,102.8 207.2,102.0 207.5,101.5 209.0,102.0 210.0,102.5 209.5,102.8Z"/><path fill-rule="evenodd" fill="#910000" d="M212.5,99.1 212.0,99.0 212.7,99.0 212.5,99.1ZM208.0,102.0 208.3,102.0 208.0,102.0Z"/></g><g clip-path="url(#cc)"><rect x="44" y="157" width="130.5" height="106" fill="#0210dc"/><path fill-rule="evenodd" fill="#061be2" d="M79.0,228.6 73.5,228.8 68.0,227.6 63.5,225.7 59.0,222.4 53.5,219.8 50.5,217.5 48.0,214.5 46.3,211.0 45.7,207.5 46.0,204.0 47.1,201.0 49.1,198.0 52.0,195.2 56.0,192.8 60.0,191.5 64.0,188.6 67.5,186.8 72.0,185.3 76.5,184.6 80.5,184.7 84.5,185.6 88.0,187.1 91.0,189.2 93.6,192.0 95.8,195.5 97.2,199.5 97.8,203.5 97.7,207.5 96.8,212.0 95.3,216.0 92.9,220.0 90.3,223.0 87.0,225.6 83.5,227.4 79.0,228.6Z"/><path fill-rule="evenodd" fill="#0b25e6" d="M78.0,226.5 75.5,226.7 72.5,226.5 67.5,225.2 63.0,222.8 59.0,219.6 55.0,217.6 52.5,215.5 50.5,213.0 49.2,210.0 48.8,207.0 49.2,204.0 50.2,201.5 52.0,199.0 54.5,196.8 57.0,195.3 60.5,194.0 64.0,191.2 68.5,188.8 73.5,187.2 78.0,186.7 82.0,187.1 85.5,188.2 88.0,189.6 90.8,192.0 92.8,194.5 94.3,197.5 95.3,201.0 95.6,205.0 95.3,209.0 94.2,213.0 92.6,216.5 90.6,219.5 88.0,222.2 85.0,224.3 81.5,225.8 78.0,226.5Z"/><path fill-rule="evenodd" fill="#0f2fea" d="M77.5,225.5 74.0,225.6 70.0,224.9 66.5,223.6 63.0,221.5 61.0,219.9 59.0,217.7 55.9,216.0 53.3,213.5 52.3,212.0 51.4,210.0 50.9,206.5 51.8,203.0 54.0,199.7 56.7,197.5 60.0,195.9 64.5,192.1 68.0,190.1 71.5,188.8 75.0,188.0 78.5,187.8 82.0,188.2 85.0,189.2 88.0,190.9 90.3,193.0 92.1,195.5 93.7,199.0 94.4,202.0 94.6,205.5 94.1,209.5 92.9,213.5 91.4,216.5 89.2,219.5 87.0,221.6 84.0,223.6 81.0,224.8 77.5,225.5Z"/><path fill-rule="evenodd" fill="#133aed" d="M79.0,224.6 75.5,224.9 72.0,224.6 68.5,223.7 64.5,221.7 61.6,219.5 58.5,215.8 56.6,214.5 55.0,212.9 53.5,210.5 52.7,207.5 53.1,204.5 54.6,201.5 56.6,199.5 59.5,197.7 63.5,193.7 66.5,191.7 69.5,190.3 73.0,189.1 76.5,188.6 80.0,188.6 83.0,189.2 85.5,190.2 88.5,192.2 90.6,194.5 92.1,197.0 93.3,200.0 93.8,203.5 93.8,207.0 93.1,210.5 91.7,214.5 89.9,217.5 87.5,220.3 85.0,222.2 82.0,223.7 79.0,224.6Z"/><path fill-rule="evenodd" fill="#1745f0" d="M79.0,224.0 75.0,224.4 71.0,223.8 67.5,222.7 64.0,220.7 60.9,218.0 59.4,216.0 58.0,213.6 56.0,211.5 55.0,209.5 54.5,207.5 54.8,205.0 56.0,202.5 59.0,199.5 60.8,197.0 63.0,194.8 66.0,192.6 69.5,190.9 73.0,189.7 76.5,189.1 80.0,189.1 83.0,189.8 85.5,190.8 88.0,192.5 90.3,195.0 91.8,197.5 92.8,200.5 93.3,203.5 93.2,207.0 92.6,210.5 91.3,214.0 89.6,217.0 87.5,219.5 85.0,221.6 82.0,223.1 79.0,224.0Z"/><path fill-rule="evenodd" fill="#1c4ff3" d="M79.0,223.6 75.0,223.9 71.0,223.4 67.5,222.2 64.0,220.2 61.5,218.0 59.2,215.0 57.7,211.5 56.6,207.5 56.9,205.0 58.9,200.5 60.5,198.0 63.0,195.4 66.0,193.1 69.5,191.3 73.0,190.1 76.5,189.5 80.0,189.6 83.0,190.2 85.5,191.3 87.9,193.0 89.8,195.0 91.3,197.5 92.3,200.0 92.9,203.5 92.8,207.0 92.2,210.0 91.3,213.0 89.4,216.5 87.4,219.0 85.0,221.0 82.0,222.7 79.0,223.6Z"/><path fill-rule="evenodd" fill="#205af6" d="M76.5,223.5 72.5,223.3 68.5,222.3 65.5,220.8 62.5,218.5 60.3,216.0 58.7,213.0 57.7,209.5 57.6,206.0 58.3,203.0 59.9,199.5 62.0,196.8 65.0,194.2 68.5,192.2 72.0,190.8 76.0,190.0 79.5,189.9 82.0,190.3 85.0,191.5 87.5,193.1 89.3,195.0 90.9,197.5 91.9,200.0 92.5,203.0 92.5,206.5 91.9,210.0 90.9,213.0 89.3,216.0 87.4,218.5 85.0,220.6 82.5,222.1 79.5,223.1 76.5,223.5Z"/><path fill-rule="evenodd" fill="#2566f8" d="M78.0,223.1 74.5,223.2 71.0,222.7 67.0,221.3 64.0,219.4 61.5,217.0 59.5,214.0 58.3,211.0 57.9,207.5 58.2,204.5 59.2,201.5 61.0,198.5 63.5,195.8 67.0,193.3 70.5,191.6 74.0,190.6 78.0,190.1 81.0,190.4 84.0,191.3 86.5,192.7 88.5,194.5 90.3,197.0 91.2,199.0 91.9,201.5 92.2,205.0 91.9,208.5 91.3,211.0 89.8,214.5 88.2,217.0 86.0,219.4 83.5,221.2 81.0,222.3 78.0,223.1Z"/><path fill-rule="evenodd" fill="#2a72fb" d="M79.0,222.6 75.5,223.0 72.0,222.7 68.5,221.6 65.0,219.8 62.3,217.5 60.3,215.0 58.7,211.5 58.2,208.5 58.3,205.5 59.3,202.0 60.6,199.5 63.0,196.6 66.0,194.2 69.5,192.3 73.0,191.1 77.0,190.4 80.0,190.5 83.0,191.2 85.5,192.4 87.5,193.9 89.3,196.0 90.8,198.5 91.6,201.0 91.9,203.5 91.8,207.0 91.3,210.0 90.2,213.0 88.6,216.0 86.6,218.5 84.5,220.2 82.0,221.6 79.0,222.6Z"/><path fill-rule="evenodd" fill="#3284fd" d="M78.0,222.6 74.5,222.7 71.0,222.2 67.5,220.9 64.5,219.1 62.0,216.8 60.0,214.0 58.9,211.0 58.4,207.5 58.7,204.5 59.8,201.5 61.6,198.5 64.0,196.1 67.0,193.9 70.5,192.2 74.0,191.1 78.0,190.7 80.5,190.8 83.5,191.7 86.0,193.0 88.0,194.7 89.7,197.0 90.9,199.5 91.6,202.5 91.7,205.0 91.5,208.0 90.7,211.0 89.2,214.5 87.6,217.0 85.7,219.0 83.5,220.6 81.0,221.8 78.0,222.6Z"/><path fill-rule="evenodd" fill="#40b2ff" d="M76.0,222.5 72.0,222.2 68.5,221.1 65.5,219.6 63.0,217.5 60.9,215.0 59.4,212.0 58.8,209.5 58.8,205.5 59.4,203.0 61.0,199.7 63.3,197.0 66.0,194.8 69.5,192.9 72.5,191.7 76.5,190.9 79.5,190.9 82.0,191.4 84.5,192.4 86.9,194.0 88.8,196.0 90.2,198.5 91.1,201.0 91.5,204.0 91.4,207.0 90.8,210.0 89.7,213.0 88.4,215.5 86.4,218.0 84.5,219.7 82.0,221.1 79.0,222.2 76.0,222.5Z"/><path fill-rule="evenodd" fill="#4bd9fd" d="M78.5,222.0 75.5,222.3 72.0,222.0 68.8,221.0 65.1,219.0 62.5,216.6 60.5,213.9 59.5,211.5 58.9,208.0 59.0,205.4 60.0,202.0 61.5,199.4 63.6,197.0 66.1,195.0 69.7,193.0 74.3,191.5 77.5,191.1 80.5,191.3 83.0,192.0 85.1,193.0 87.1,194.5 88.5,196.0 90.0,198.5 91.0,201.5 91.3,204.5 91.1,207.5 90.3,211.0 89.0,214.0 87.5,216.4 85.6,218.5 83.5,220.1 80.5,221.5 78.5,222.0Z"/><path fill-rule="evenodd" fill="#50ecf7" d="M76.5,222.0 73.0,221.9 69.6,221.0 66.5,219.5 63.9,217.5 61.7,215.0 60.2,212.0 59.4,209.0 59.4,206.0 60.1,203.0 61.5,200.2 63.5,197.7 66.0,195.5 69.3,193.5 73.0,192.1 76.5,191.4 79.9,191.5 82.5,192.1 85.0,193.3 87.0,194.8 88.5,196.5 90.0,199.0 90.7,201.5 91.1,204.0 91.0,207.0 90.4,210.0 89.3,213.0 87.9,215.5 86.0,217.8 84.0,219.5 81.5,220.8 79.0,221.6 76.5,222.0Z"/><path fill-rule="evenodd" fill="#52f0eb" d="M78.0,221.6 75.0,221.7 71.5,221.2 68.1,220.0 65.5,218.4 63.0,216.0 61.4,213.5 60.3,210.5 59.9,207.5 60.3,204.5 61.3,201.5 62.9,199.0 65.3,196.5 68.1,194.5 71.5,192.9 75.0,191.9 78.0,191.7 80.5,191.9 83.0,192.6 85.5,194.0 87.3,195.5 88.9,197.5 90.0,199.8 90.7,202.5 90.9,205.0 90.7,208.0 89.9,211.0 88.6,214.0 87.0,216.3 85.0,218.4 83.0,219.8 80.5,220.9 78.0,221.6Z"/><path fill-rule="evenodd" fill="#54f4e0" d="M79.0,221.1 76.0,221.5 72.5,221.1 69.5,220.2 66.5,218.6 64.1,216.5 62.2,214.0 61.1,211.5 60.5,208.5 60.6,205.5 61.4,202.5 62.8,200.0 64.8,197.5 67.2,195.5 70.5,193.6 73.5,192.5 76.5,192.0 79.5,192.0 82.0,192.6 84.2,193.5 86.3,195.0 88.0,196.8 89.4,199.0 90.3,201.5 90.7,204.0 90.7,206.5 90.2,209.5 89.1,212.5 87.7,215.0 86.0,217.1 84.0,218.9 81.5,220.3 79.0,221.1Z"/><path fill-rule="evenodd" fill="#5cf8c6" d="M77.5,221.1 74.5,221.1 71.5,220.6 68.7,219.5 66.0,217.7 63.8,215.5 62.2,213.0 61.4,210.5 61.0,207.5 61.3,204.5 62.2,202.0 63.7,199.5 65.9,197.0 68.6,195.0 71.5,193.5 75.0,192.5 78.0,192.2 80.5,192.5 83.0,193.3 85.2,194.5 87.0,196.1 88.5,198.0 89.7,200.5 90.3,203.0 90.5,205.5 90.2,208.5 89.3,211.5 88.1,214.0 86.5,216.3 84.5,218.2 82.5,219.5 80.0,220.5 77.5,221.1Z"/><path fill-rule="evenodd" fill="#66fca6" d="M79.0,220.5 76.0,220.9 73.0,220.6 70.0,219.7 67.5,218.4 65.2,216.5 63.3,214.0 62.2,211.5 61.6,208.5 61.7,205.5 62.4,203.0 63.6,200.5 65.5,198.0 67.7,196.0 70.5,194.3 73.5,193.1 76.5,192.6 79.0,192.6 81.5,193.1 84.0,194.1 86.0,195.5 87.8,197.5 89.0,199.5 89.8,201.5 90.2,204.0 90.3,206.5 89.8,209.5 88.9,212.0 87.5,214.6 86.0,216.5 84.0,218.2 81.5,219.7 79.0,220.5Z"/><path fill-rule="evenodd" fill="#72ff85" d="M77.0,220.6 74.0,220.5 71.5,219.9 69.0,218.9 66.4,217.0 64.5,215.0 63.1,212.5 62.3,210.0 62.1,207.0 62.6,204.0 63.6,201.5 65.2,199.0 67.1,197.0 69.8,195.0 72.5,193.8 75.5,193.0 78.5,192.8 81.0,193.2 83.1,194.0 85.0,195.1 87.0,197.0 88.5,199.1 89.5,201.5 90.0,204.0 90.1,206.5 89.7,209.0 88.9,211.5 87.7,214.0 86.0,216.1 84.0,217.9 82.0,219.2 79.5,220.1 77.0,220.6Z"/><path fill-rule="evenodd" fill="#86ff5c" d="M78.5,220.1 76.0,220.3 73.0,220.0 70.5,219.2 68.0,217.8 65.9,216.0 64.1,213.5 63.1,211.0 62.7,208.5 62.7,206.0 63.3,203.5 64.4,201.0 66.1,198.5 68.2,196.5 71.0,194.7 73.5,193.7 76.5,193.1 79.0,193.2 81.5,193.7 83.5,194.6 85.5,195.9 87.1,197.5 88.5,199.7 89.4,202.0 89.9,204.5 89.8,207.5 89.3,210.0 88.3,212.5 87.0,214.6 85.0,216.8 83.0,218.3 81.0,219.3 78.5,220.1Z"/><path fill-rule="evenodd" fill="#99ff3d" d="M76.5,220.0 73.5,219.8 71.0,219.1 68.5,217.7 66.5,216.0 65.0,214.0 63.8,211.5 63.3,209.0 63.2,206.5 63.7,204.0 64.7,201.5 66.3,199.0 68.2,197.0 70.5,195.3 73.0,194.2 75.5,193.5 78.5,193.4 81.0,193.9 83.0,194.7 85.1,196.0 87.0,197.9 88.3,200.0 89.1,202.0 89.6,204.5 89.7,207.0 89.2,209.5 88.3,212.0 87.0,214.3 85.5,216.0 83.5,217.7 81.5,218.8 79.0,219.7 76.5,220.0Z"/><path fill-rule="evenodd" fill="#abff29" d="M78.0,219.6 75.5,219.7 73.0,219.4 70.5,218.5 68.2,217.0 66.2,215.0 65.0,213.0 64.1,210.5 63.7,208.0 64.0,205.0 64.7,202.5 66.1,200.0 67.7,198.0 69.5,196.4 72.0,194.9 74.5,194.0 77.0,193.7 79.5,193.8 81.9,194.5 84.0,195.6 85.8,197.0 87.4,199.0 88.5,201.0 89.2,203.0 89.5,205.5 89.4,208.0 88.7,210.5 87.6,213.0 86.5,214.6 84.5,216.6 82.5,218.0 80.5,218.9 78.0,219.6Z"/><path fill-rule="evenodd" fill="#bcfd19" d="M79.0,219.1 76.5,219.4 74.0,219.3 71.5,218.6 69.5,217.5 67.6,216.0 66.1,214.0 64.9,211.5 64.3,209.0 64.3,206.5 64.8,204.0 65.7,201.5 67.3,199.0 69.3,197.0 71.5,195.5 74.0,194.4 76.4,194.0 78.5,194.0 81.0,194.5 83.0,195.4 84.7,196.5 86.5,198.2 87.7,200.0 88.6,202.0 89.2,204.5 89.0,209.0 88.1,211.5 87.0,213.5 85.5,215.4 83.5,217.1 81.0,218.4 79.0,219.1Z"/><path fill-rule="evenodd" fill="#cef90d" d="M77.5,219.0 75.0,219.1 72.5,218.6 70.5,217.7 68.5,216.3 66.9,214.5 65.8,212.5 65.0,210.0 64.8,207.5 65.0,205.0 65.8,202.5 67.1,200.0 68.8,198.0 70.5,196.5 73.0,195.2 75.0,194.6 77.5,194.3 80.0,194.6 82.0,195.3 84.0,196.4 85.5,197.6 87.0,199.4 88.0,201.2 88.8,203.5 89.0,206.0 88.8,208.5 88.3,210.5 87.3,212.5 85.9,214.5 84.0,216.3 82.2,217.5 80.0,218.5 77.5,219.0Z"/><path fill-rule="evenodd" fill="#e0f501" d="M78.5,218.5 76.0,218.8 73.6,218.5 71.5,217.8 69.5,216.6 67.8,215.0 66.5,213.0 65.7,211.0 65.3,208.5 65.3,206.0 65.9,203.5 67.0,201.0 68.4,199.0 70.0,197.4 72.0,196.1 74.0,195.2 76.5,194.7 78.5,194.7 80.5,195.1 82.5,195.9 84.5,197.2 86.0,198.6 87.3,200.5 88.2,202.5 88.7,205.0 88.7,207.5 88.3,209.5 87.5,211.5 86.3,213.5 85.0,215.0 83.0,216.6 81.0,217.7 78.5,218.5Z"/><path fill-rule="evenodd" fill="#eee200" d="M79.0,218.1 76.5,218.4 74.5,218.3 72.0,217.6 70.0,216.5 68.5,215.1 67.3,213.5 66.4,211.5 65.8,209.0 65.7,207.0 66.1,204.5 67.0,202.0 68.2,200.0 69.5,198.4 71.5,196.8 73.5,195.8 76.0,195.2 78.0,195.1 80.0,195.4 82.0,196.0 84.0,197.2 85.5,198.6 86.9,200.5 87.9,202.5 88.4,204.5 88.4,207.0 88.1,209.0 87.4,211.0 86.3,213.0 85.0,214.5 83.0,216.2 81.0,217.4 79.0,218.1Z"/><path fill-rule="evenodd" fill="#facd00" d="M77.5,218.0 75.0,218.0 73.0,217.6 71.0,216.7 69.4,215.5 68.1,214.0 67.0,212.0 66.4,210.0 66.2,207.5 66.5,205.0 67.1,203.0 68.0,201.0 69.5,199.0 71.2,197.5 73.0,196.4 75.0,195.7 77.5,195.4 79.5,195.6 81.5,196.2 83.5,197.3 85.0,198.5 86.2,200.0 87.3,202.0 88.0,204.0 88.2,206.0 88.0,208.0 87.5,210.0 86.5,212.0 85.0,214.0 83.4,215.5 81.5,216.7 79.5,217.6 77.5,218.0Z"/><path fill-rule="evenodd" fill="#fdaf00" d="M78.5,217.5 76.5,217.8 74.5,217.6 72.5,217.0 70.7,216.0 69.0,214.5 68.0,213.0 67.2,211.0 66.8,209.0 66.7,206.5 67.2,204.0 68.0,202.0 69.2,200.0 70.6,198.5 72.5,197.1 74.5,196.3 76.5,195.9 78.5,195.9 80.5,196.3 82.5,197.1 84.0,198.1 85.4,199.5 86.5,201.0 87.4,203.0 87.8,205.0 87.8,207.0 87.5,209.0 86.7,211.0 85.5,212.9 82.5,215.7 80.5,216.8 78.5,217.5Z"/><path fill-rule="evenodd" fill="#ff9000" d="M79.0,217.0 77.0,217.4 75.0,217.4 73.0,216.9 71.3,216.0 70.0,214.9 68.8,213.5 67.8,211.5 67.3,209.5 67.2,207.5 67.4,205.0 68.0,203.0 69.1,201.0 70.5,199.2 72.0,197.9 74.0,196.9 76.0,196.3 78.0,196.2 80.0,196.5 82.0,197.2 83.5,198.2 85.0,199.5 86.1,201.0 86.9,202.5 87.5,204.5 87.6,206.5 87.3,208.5 85.8,212.0 83.0,215.0 81.0,216.2 79.0,217.0Z"/><path fill-rule="evenodd" fill="#ff6e00" d="M77.5,217.0 75.5,217.1 73.5,216.7 72.0,216.0 70.5,214.9 69.3,213.5 68.3,211.5 67.8,209.5 67.6,207.5 68.3,203.5 69.3,201.5 70.5,199.8 71.9,198.5 73.5,197.5 75.5,196.8 77.5,196.6 79.5,196.8 81.5,197.4 84.5,199.5 85.8,201.0 86.6,202.5 87.3,206.0 86.7,209.5 85.7,211.5 84.5,213.1 83.0,214.5 81.0,215.9 77.5,217.0Z"/><path fill-rule="evenodd" fill="#ff4800" d="M78.0,216.6 76.0,216.7 74.5,216.6 72.8,216.0 71.2,215.0 69.8,213.5 69.0,212.0 68.1,208.5 68.2,206.0 68.7,204.0 69.5,202.0 70.4,200.5 71.9,199.0 73.4,198.0 75.0,197.3 77.0,197.0 79.0,197.1 80.7,197.5 82.5,198.3 84.0,199.4 86.0,202.0 86.6,203.5 87.0,205.5 86.5,209.0 85.6,211.0 84.6,212.5 81.5,215.2 78.0,216.6Z"/><path fill-rule="evenodd" fill="#ff2600" d="M78.5,216.1 76.5,216.4 74.5,216.2 71.9,215.0 70.5,213.7 69.5,212.1 68.9,210.5 68.6,208.5 69.0,204.5 70.6,201.0 71.9,199.5 73.5,198.4 75.0,197.7 77.0,197.4 80.5,197.8 83.5,199.5 85.6,202.0 86.5,204.3 86.7,205.5 86.6,207.5 86.2,209.0 84.6,212.0 81.9,214.5 78.5,216.1Z"/><path fill-rule="evenodd" fill="#fd1c00" d="M79.0,215.5 77.0,215.9 75.5,215.9 73.8,215.5 72.5,214.9 71.4,214.0 70.2,212.5 69.2,209.5 69.2,205.5 70.5,201.9 71.5,200.5 73.0,199.2 76.0,198.0 79.5,198.1 82.5,199.3 83.9,200.5 85.0,201.9 85.8,203.5 86.1,205.0 86.0,208.2 84.8,211.0 82.0,213.9 79.0,215.5Z"/><path fill-rule="evenodd" fill="#fc1200" d="M78.5,215.1 75.5,215.3 74.0,214.9 72.5,214.1 70.5,212.0 69.8,210.5 69.4,208.5 69.7,205.0 71.0,201.9 72.0,200.7 73.5,199.5 76.5,198.5 79.5,198.8 82.5,200.3 84.5,202.5 85.5,205.5 85.2,208.5 83.7,211.5 81.5,213.6 78.5,215.1Z"/><path fill-rule="evenodd" fill="#fa0900" d="M78.0,214.6 75.0,214.6 72.5,213.4 71.5,212.5 70.5,211.0 69.7,208.0 70.0,205.0 71.5,201.9 73.5,200.2 76.5,199.2 79.5,199.5 82.0,200.8 83.9,203.0 84.8,206.0 84.4,209.0 83.0,211.5 80.7,213.5 78.0,214.6Z"/><path fill-rule="evenodd" fill="#f20600" d="M78.0,214.0 75.0,213.9 72.5,212.7 70.8,210.5 70.1,208.0 70.3,205.0 71.5,202.6 73.5,200.8 76.0,199.9 79.0,200.1 81.5,201.4 83.3,203.5 84.1,206.0 83.9,208.5 82.7,211.0 80.5,213.0 78.0,214.0Z"/><path fill-rule="evenodd" fill="#e90400" d="M77.0,213.5 74.5,213.1 72.5,211.9 71.0,209.9 70.4,207.0 71.0,204.2 72.5,202.2 74.5,200.9 77.0,200.4 79.5,201.0 81.6,202.5 82.9,204.5 83.4,207.0 82.8,209.5 81.5,211.5 79.3,213.0 77.0,213.5Z"/><path fill-rule="evenodd" fill="#e10100" d="M78.5,212.6 76.0,212.8 74.0,212.2 72.1,210.5 71.1,208.5 71.0,206.0 71.7,204.0 73.0,202.5 75.0,201.4 77.5,201.2 79.5,201.8 81.5,203.5 82.5,205.5 82.6,208.0 81.9,210.0 80.5,211.6 78.5,212.6Z"/><path fill-rule="evenodd" fill="#c50000" d="M78.0,212.1 76.0,212.1 74.0,211.4 72.6,210.0 71.7,208.0 71.7,206.0 72.5,204.1 74.0,202.6 75.5,202.0 77.5,201.9 79.5,202.6 81.0,204.0 81.9,206.0 81.9,208.0 81.0,210.0 79.5,211.4 78.0,212.1Z"/><path fill-rule="evenodd" fill="#910000" d="M78.5,211.1 77.0,211.5 75.0,211.0 74.0,210.5 73.0,209.3 72.5,208.0 72.5,205.8 73.5,204.0 74.9,203.0 77.0,202.5 78.7,203.0 80.0,203.9 81.0,205.5 81.0,208.5 80.0,210.1 78.5,211.1Z"/></g><g clip-path="url(#cd)"><rect x="174.5" y="157" width="130.0" height="106" fill="#000cda"/><path fill-rule="evenodd" fill="#061be2" d="M189.5,239.5 188.0,239.3 186.0,237.3 179.0,225.6 174.5,225.6 174.5,188.2 179.0,188.2 186.0,176.5 187.5,174.9 189.0,174.2 190.0,174.5 190.5,175.1 191.5,177.2 192.3,181.0 193.0,186.2 202.0,183.3 207.5,182.7 210.5,182.9 214.0,183.7 217.0,184.8 219.0,186.0 222.7,189.5 225.7,194.0 227.7,199.5 228.3,204.0 228.2,212.0 226.9,217.5 225.8,220.0 224.4,222.5 222.5,225.0 220.5,227.0 218.0,228.9 215.0,230.2 211.5,231.1 208.0,231.5 204.5,231.3 201.5,230.8 193.0,227.9 192.3,233.0 191.5,236.6 190.5,238.7 189.5,239.5Z"/><path fill-rule="evenodd" fill="#0b25e6" d="M189.0,234.5 187.5,234.4 186.0,233.2 179.0,223.2 174.5,223.2 174.5,190.6 179.0,190.6 185.5,181.2 187.0,179.7 188.0,179.2 189.0,179.3 189.5,179.6 190.5,181.0 191.3,183.5 192.1,187.5 192.5,188.1 195.5,186.8 201.5,184.9 206.0,184.1 209.0,184.1 212.0,184.6 214.5,185.3 217.5,186.6 220.9,189.5 223.6,193.0 225.4,196.5 226.6,201.0 226.9,204.0 226.7,212.5 225.6,217.0 223.7,221.0 221.0,224.6 217.6,227.5 214.5,228.9 211.0,229.8 207.0,230.1 203.0,229.7 195.5,227.4 192.5,226.2 192.1,226.5 191.4,230.0 190.6,232.5 190.0,233.7 189.0,234.5Z"/><path fill-rule="evenodd" fill="#0f2fea" d="M188.0,231.6 187.0,231.3 185.5,230.1 179.0,221.6 174.5,221.6 174.5,192.2 179.0,192.2 185.5,183.7 187.0,182.5 188.0,182.2 189.0,182.6 190.0,183.9 190.8,186.0 191.5,189.0 192.0,189.1 195.5,187.6 201.5,185.7 206.5,184.9 209.0,184.9 212.0,185.4 215.0,186.3 217.5,187.6 220.7,190.5 223.3,194.0 224.9,197.5 225.9,201.5 226.1,210.0 225.8,213.0 224.8,217.0 222.8,221.0 220.0,224.5 217.0,226.9 213.5,228.4 209.5,229.2 206.0,229.3 202.5,228.8 196.0,226.8 191.5,225.0 190.0,229.9 189.0,231.2 188.0,231.6Z"/><path fill-rule="evenodd" fill="#133aed" d="M188.5,229.0 187.0,229.2 185.5,228.2 179.0,220.4 174.5,220.4 174.5,193.4 179.0,193.4 185.5,185.6 186.5,184.8 187.5,184.5 188.5,184.8 189.5,185.9 191.0,190.1 195.5,188.2 201.5,186.3 205.5,185.5 208.5,185.5 211.0,185.8 214.5,186.8 217.0,187.9 220.0,190.5 222.6,194.0 224.3,197.5 225.4,202.0 225.6,210.0 225.3,213.0 223.8,218.0 221.8,221.5 219.5,224.2 217.0,226.3 214.5,227.4 211.5,228.3 207.5,228.8 203.0,228.3 196.0,226.2 191.0,224.2 189.7,227.5 188.5,229.0Z"/><path fill-rule="evenodd" fill="#1745f0" d="M210.5,228.0 206.5,228.3 202.5,227.7 196.0,225.7 190.5,223.4 188.9,226.5 188.0,227.3 187.0,227.4 185.5,226.6 179.0,219.3 174.5,219.3 174.5,194.5 179.0,194.5 185.5,187.2 187.0,186.4 188.0,186.5 189.0,187.4 190.5,190.7 195.5,188.7 201.5,186.8 204.0,186.2 207.0,185.9 210.5,186.2 214.0,187.1 216.5,188.1 218.8,190.0 220.7,192.0 222.7,195.0 223.8,197.5 224.7,200.5 225.1,204.5 224.9,207.0 225.1,210.5 224.7,213.5 223.9,216.5 222.8,219.0 221.2,221.5 219.5,223.5 217.5,225.4 216.0,226.3 213.5,227.3 210.5,228.0Z"/><path fill-rule="evenodd" fill="#1c4ff3" d="M211.0,227.6 207.0,227.9 202.5,227.3 196.0,225.3 190.0,222.8 188.1,225.5 187.5,225.8 186.5,225.7 185.0,224.7 179.0,218.5 174.5,218.5 174.5,195.3 179.0,195.3 185.5,188.6 187.0,188.0 188.0,188.2 188.5,188.7 190.0,191.4 196.0,188.9 201.0,187.3 203.5,186.6 206.5,186.3 209.5,186.4 213.0,187.1 216.0,188.3 218.0,189.7 219.8,191.5 221.7,194.0 223.8,198.5 224.7,203.5 224.5,207.0 224.7,210.5 224.4,213.0 223.7,216.0 222.7,218.5 221.1,221.0 219.5,223.0 216.5,225.6 214.0,226.8 211.0,227.6Z"/><path fill-rule="evenodd" fill="#205af6" d="M209.5,227.5 206.0,227.6 202.0,226.9 195.5,224.8 189.5,222.2 188.0,224.0 186.5,224.4 185.0,223.5 179.0,217.7 174.5,217.7 174.5,196.1 179.0,196.1 185.0,190.3 186.5,189.4 188.0,189.8 189.5,192.1 196.0,189.2 204.5,186.8 208.5,186.6 212.0,187.2 216.0,188.6 218.0,190.1 219.8,192.0 221.6,194.5 222.9,197.0 223.7,199.5 224.4,204.0 224.2,207.0 224.4,210.5 224.1,213.0 223.4,216.0 222.3,218.5 220.8,221.0 218.6,223.5 216.5,225.3 215.5,225.8 212.5,226.9 209.5,227.5Z"/><path fill-rule="evenodd" fill="#2566f8" d="M210.5,227.1 206.5,227.4 202.5,226.7 196.0,224.7 192.0,223.1 189.0,221.5 187.5,222.9 186.0,223.0 179.0,217.0 174.5,217.0 174.5,196.8 179.0,196.8 186.0,190.8 187.5,190.9 189.0,192.6 192.5,190.8 196.5,189.3 204.0,187.1 207.5,186.8 211.0,187.2 214.5,188.3 216.5,189.2 217.5,190.0 219.5,192.0 221.3,194.5 223.3,199.0 224.2,204.0 224.0,207.0 224.2,210.5 223.9,213.0 222.3,218.0 220.8,220.5 219.0,222.7 216.0,225.3 213.5,226.3 210.5,227.1Z"/><path fill-rule="evenodd" fill="#2a72fb" d="M209.0,227.1 205.5,227.0 201.5,226.2 193.0,223.3 188.5,220.9 187.0,221.9 186.0,221.9 185.0,221.4 179.0,216.3 174.5,216.3 174.5,197.5 179.0,197.5 185.0,192.4 186.0,191.9 187.0,191.9 188.5,193.1 192.0,191.3 196.0,189.7 204.5,187.3 208.5,187.1 212.0,187.7 216.0,189.2 217.5,190.3 219.2,192.0 221.1,194.5 222.4,197.0 223.2,199.5 223.9,204.0 223.7,207.0 223.9,210.5 223.6,213.0 222.9,216.0 221.8,218.5 220.2,221.0 218.0,223.4 216.5,224.7 214.5,225.7 211.5,226.7 209.0,227.1Z"/><path fill-rule="evenodd" fill="#3284fd" d="M211.0,226.5 206.5,226.9 202.0,226.1 193.0,223.1 188.0,220.4 186.5,220.9 185.5,220.7 179.0,215.7 174.5,215.7 174.5,198.1 179.0,198.1 185.5,193.1 186.5,192.9 188.0,193.7 193.5,190.9 196.5,189.7 203.5,187.7 207.0,187.3 210.0,187.5 213.5,188.4 216.5,189.8 218.5,191.6 220.1,193.5 221.7,196.0 222.7,198.5 223.7,203.5 223.6,212.0 222.3,217.0 221.0,219.4 219.1,222.0 216.0,224.8 213.5,225.8 211.0,226.5Z"/><path fill-rule="evenodd" fill="#40b2ff" d="M210.0,226.5 205.0,226.6 197.5,224.6 192.0,222.5 187.5,219.8 185.5,219.8 179.0,215.1 174.5,215.1 174.5,198.7 179.0,198.7 185.5,194.0 186.5,193.9 187.5,194.5 190.5,192.5 192.5,191.5 196.5,189.9 203.5,187.9 207.5,187.5 211.0,187.9 214.5,189.0 216.5,190.0 218.7,192.0 220.5,194.4 222.5,198.5 223.5,203.5 223.3,207.0 223.6,210.0 223.3,212.5 222.6,215.5 221.6,218.0 220.0,220.5 218.5,222.3 216.0,224.5 213.5,225.6 210.0,226.5Z"/><path fill-rule="evenodd" fill="#4bd9fd" d="M208.0,226.5 203.1,226.0 196.4,224.0 191.5,222.0 187.0,219.2 185.0,218.6 179.0,214.5 174.5,214.5 174.5,199.3 179.0,199.3 185.0,195.2 186.0,194.9 187.0,195.1 191.9,192.0 197.0,190.0 203.5,188.1 207.5,187.7 210.6,188.0 214.0,189.0 216.7,190.5 218.5,192.1 220.3,194.5 221.5,196.5 222.5,199.1 223.3,204.0 223.1,207.0 223.3,210.5 222.9,213.5 222.0,216.5 221.0,218.6 219.0,221.5 217.0,223.5 215.6,224.5 213.2,225.5 208.0,226.5Z"/><path fill-rule="evenodd" fill="#50ecf7" d="M210.0,226.0 207.5,226.2 204.5,226.0 197.0,223.9 191.0,221.4 179.0,213.9 174.5,213.9 174.5,199.9 179.0,199.9 185.0,196.1 186.5,195.7 192.0,192.3 197.0,190.3 203.0,188.5 206.5,188.0 209.5,188.1 213.0,188.9 216.0,190.2 218.0,192.0 220.0,194.4 221.2,196.5 222.2,199.0 223.1,203.5 223.0,212.0 221.5,217.1 220.2,219.5 218.5,221.7 215.5,224.2 213.0,225.3 210.0,226.0Z"/><path fill-rule="evenodd" fill="#52f0eb" d="M211.0,225.5 208.0,225.9 205.0,225.8 197.0,223.6 191.0,221.0 184.0,216.2 179.0,213.3 174.5,213.3 174.5,200.5 179.0,200.5 192.3,192.5 197.0,190.6 203.0,188.8 206.5,188.3 209.5,188.4 213.0,189.2 216.0,190.6 218.0,192.4 219.7,194.5 221.0,196.6 222.0,199.0 222.9,203.5 222.7,212.0 221.3,217.0 220.2,219.0 218.5,221.3 215.5,223.9 211.0,225.5Z"/><path fill-rule="evenodd" fill="#54f4e0" d="M209.5,225.5 207.0,225.7 204.5,225.4 197.0,223.3 191.0,220.7 186.2,217.5 183.5,215.2 179.0,212.8 174.5,212.8 174.5,201.0 179.0,201.0 184.0,198.4 190.0,194.2 192.5,192.7 197.0,190.9 203.0,189.1 206.5,188.6 209.5,188.7 213.0,189.5 216.0,190.9 218.0,192.7 219.8,195.0 221.0,197.1 221.9,199.5 222.7,204.0 222.5,207.0 222.7,210.0 222.4,212.5 221.8,215.0 220.8,217.5 219.2,220.0 217.5,222.0 216.0,223.3 214.5,224.1 212.0,225.0 209.5,225.5Z"/><path fill-rule="evenodd" fill="#5cf8c6" d="M210.5,225.1 208.0,225.4 205.0,225.2 197.1,223.0 193.5,221.6 191.0,220.3 186.1,217.0 182.8,214.0 179.0,212.2 174.5,212.2 174.5,201.6 179.0,201.6 183.5,199.5 187.0,196.6 192.5,193.1 197.5,191.0 203.0,189.4 206.0,188.9 209.0,188.9 212.5,189.6 215.5,190.9 217.4,192.5 219.0,194.3 220.4,196.5 221.5,199.0 222.5,203.5 222.4,211.5 221.0,216.5 219.6,219.0 218.1,221.0 215.5,223.3 213.0,224.4 210.5,225.1Z"/><path fill-rule="evenodd" fill="#66fca6" d="M209.0,225.0 206.5,225.1 203.5,224.6 194.5,221.7 191.5,220.2 187.0,217.2 184.3,215.0 183.0,213.3 179.0,211.6 174.5,211.6 174.5,202.2 179.0,202.2 183.5,200.3 184.6,199.0 186.5,197.3 192.3,193.5 197.5,191.4 203.0,189.7 206.0,189.2 209.0,189.2 212.5,189.9 215.5,191.2 217.5,192.9 219.2,195.0 220.5,197.2 221.4,199.5 222.3,204.0 222.1,207.0 222.3,210.0 222.0,212.4 220.5,217.0 219.0,219.5 217.3,221.5 215.5,223.0 214.0,223.7 211.5,224.6 209.0,225.0Z"/><path fill-rule="evenodd" fill="#72ff85" d="M210.5,224.5 208.0,224.8 205.0,224.6 197.4,222.5 192.6,220.5 187.5,217.2 184.8,215.0 183.0,212.5 179.0,211.0 174.5,211.0 174.5,202.8 179.0,202.8 183.0,201.3 183.5,201.1 184.6,199.5 186.2,198.0 192.0,194.0 197.5,191.7 203.0,190.0 206.0,189.5 209.0,189.5 212.5,190.2 215.5,191.5 217.5,193.3 219.0,195.2 220.4,197.5 221.2,199.5 222.0,204.0 221.9,211.5 221.2,214.5 220.5,216.5 218.0,220.3 215.0,223.0 210.5,224.5Z"/><path fill-rule="evenodd" fill="#86ff5c" d="M208.5,224.5 206.0,224.5 203.5,224.0 194.5,221.1 191.5,219.5 186.5,216.0 184.9,214.5 183.0,211.6 179.0,210.3 174.5,210.3 174.5,203.5 179.0,203.5 183.0,202.2 185.0,199.5 186.1,198.5 192.0,194.4 197.5,192.0 202.5,190.4 205.5,189.8 208.5,189.7 212.0,190.3 215.0,191.5 216.8,193.0 218.5,194.9 219.9,197.0 220.9,199.5 221.8,204.0 221.6,212.0 221.0,214.5 220.0,217.0 218.5,219.3 217.0,221.0 215.3,222.5 213.5,223.3 211.0,224.1 208.5,224.5ZM209.3,209.5 210.1,209.0 210.7,208.0 210.8,207.0 210.6,206.0 209.5,204.8 208.5,204.5 207.5,204.7 206.2,206.0 206.0,207.0 206.1,208.0 206.8,209.0 207.5,209.5 208.5,209.7 209.3,209.5Z"/><path fill-rule="evenodd" fill="#99ff3d" d="M210.0,224.0 207.0,224.2 203.5,223.8 198.0,222.1 193.0,220.0 188.3,217.0 185.9,215.0 184.5,213.3 183.0,210.6 179.0,209.6 174.5,209.6 174.5,204.2 179.0,204.2 183.0,203.2 185.5,199.6 187.9,197.5 193.3,194.0 198.5,191.9 204.0,190.3 207.5,189.9 211.5,190.5 215.0,191.8 216.5,193.0 218.3,195.0 219.6,197.0 220.7,199.5 221.6,204.0 221.5,211.5 220.2,216.0 219.1,218.0 217.5,220.1 215.0,222.4 212.5,223.4 210.0,224.0ZM209.7,212.0 211.5,211.0 212.5,209.7 213.0,208.5 213.0,205.5 212.5,204.5 210.5,202.5 209.0,202.0 207.9,202.0 205.5,203.0 204.5,204.0 203.5,207.0 204.0,209.1 204.5,210.0 206.0,211.5 207.0,212.0 209.7,212.0Z"/><path fill-rule="evenodd" fill="#abff29" d="M211.0,223.6 207.5,224.0 204.0,223.6 198.5,222.0 193.5,219.9 188.5,216.7 186.0,214.6 184.5,212.5 183.0,209.7 182.5,209.3 179.0,208.7 174.5,208.7 174.5,205.1 179.0,205.1 183.0,204.4 185.6,200.0 187.8,198.0 193.0,194.5 198.5,192.2 204.0,190.6 207.5,190.2 211.0,190.6 214.5,191.9 216.1,193.0 218.0,195.0 219.3,197.0 220.5,199.5 221.4,204.0 221.3,211.0 220.2,215.5 219.1,217.5 217.7,219.5 215.0,222.0 211.0,223.6ZM210.5,212.0 212.0,210.9 213.2,209.0 213.5,207.0 213.1,205.0 212.0,203.3 210.5,202.2 209.0,201.8 206.8,202.0 205.1,203.0 203.7,205.0 203.3,207.0 203.8,209.5 205.0,211.1 206.5,212.1 208.5,212.5 210.5,212.0Z"/><path fill-rule="evenodd" fill="#bcfd19" d="M209.5,223.6 207.0,223.7 204.0,223.3 196.0,220.7 192.0,218.7 188.5,216.3 186.3,214.5 183.8,210.5 182.6,208.0 182.5,207.0 182.7,206.0 184.2,203.0 186.6,199.5 189.5,197.2 194.0,194.3 199.0,192.4 205.0,190.7 208.5,190.5 212.0,191.2 215.0,192.5 217.0,194.3 219.6,198.0 220.9,202.0 221.2,204.5 221.0,207.0 221.2,209.5 220.6,213.5 218.9,217.5 216.0,220.9 215.0,221.7 213.0,222.7 209.5,223.6ZM209.8,212.5 211.5,211.6 212.9,210.0 213.6,208.0 213.6,206.0 212.8,204.0 211.5,202.6 209.5,201.6 207.5,201.6 205.5,202.4 204.0,204.0 203.2,206.0 203.3,208.5 204.2,210.5 205.8,212.0 208.0,212.7 209.8,212.5Z"/><path fill-rule="evenodd" fill="#cef90d" d="M211.0,223.0 208.5,223.4 205.5,223.3 198.5,221.4 193.0,219.0 189.0,216.3 186.8,214.5 184.5,211.0 182.9,207.0 184.3,203.5 186.5,200.0 189.0,197.9 194.3,194.5 198.5,192.8 204.0,191.2 207.5,190.8 210.5,191.1 214.0,192.2 216.0,193.6 218.8,197.0 220.3,200.5 221.0,204.5 220.8,211.5 219.7,215.5 218.6,217.5 217.1,219.5 214.5,221.7 211.0,223.0ZM210.4,212.5 212.0,211.5 213.4,209.5 213.9,207.5 213.5,205.0 212.3,203.0 210.5,201.7 208.5,201.3 206.5,201.6 204.5,203.0 203.5,204.5 202.9,207.0 203.2,209.0 204.3,211.0 206.0,212.3 208.0,212.9 210.4,212.5Z"/><path fill-rule="evenodd" fill="#e0f501" d="M209.5,223.1 207.0,223.2 204.5,222.9 196.0,220.2 192.7,218.5 189.0,216.0 187.0,214.3 184.9,211.0 183.3,207.0 184.7,203.5 186.9,200.0 189.5,197.8 194.5,194.7 199.0,192.9 204.5,191.3 208.0,191.0 211.0,191.4 214.5,192.7 216.5,194.4 219.1,198.0 220.0,200.0 220.6,202.5 220.8,209.5 220.3,213.0 218.7,217.0 216.0,220.3 213.5,221.9 209.5,223.1ZM209.6,213.0 211.7,212.0 213.4,210.0 214.0,208.4 214.0,205.8 213.0,203.5 211.5,202.0 209.5,201.2 207.5,201.1 205.4,202.0 204.0,203.2 203.0,205.1 202.7,207.0 202.8,208.0 203.5,210.2 205.1,212.0 207.0,213.0 209.6,213.0Z"/><path fill-rule="evenodd" fill="#eee200" d="M211.0,222.5 208.5,222.9 205.5,222.8 198.5,220.9 193.5,218.7 189.5,216.0 187.5,214.3 185.2,211.0 183.7,207.0 185.3,203.0 187.3,200.0 189.8,198.0 194.5,195.0 199.0,193.1 204.5,191.6 208.0,191.2 211.0,191.7 214.5,193.0 216.0,194.2 218.3,197.0 219.9,200.5 220.6,204.5 220.4,211.5 219.2,215.5 217.0,219.0 214.5,221.2 211.0,222.5ZM210.2,213.0 212.0,212.0 213.5,210.2 214.2,208.0 214.0,205.1 213.0,203.3 211.0,201.5 209.5,201.0 207.3,201.0 205.0,202.0 203.5,203.7 202.5,206.5 202.6,208.0 203.5,210.6 205.5,212.5 206.5,213.0 208.0,213.2 210.2,213.0Z"/><path fill-rule="evenodd" fill="#facd00" d="M209.5,222.6 207.0,222.7 204.0,222.3 196.5,219.9 193.5,218.4 189.5,215.7 187.6,214.0 185.3,210.5 184.0,207.0 185.7,203.0 187.8,200.0 190.5,197.8 195.5,194.7 199.5,193.2 205.0,191.7 208.5,191.5 212.0,192.2 214.5,193.2 216.5,195.0 217.7,196.5 219.2,199.0 220.3,203.0 220.4,210.0 219.8,213.5 218.2,217.0 215.5,220.2 213.0,221.7 209.5,222.6ZM210.6,213.0 212.7,211.5 214.0,209.4 214.4,207.0 214.1,205.0 213.0,203.0 211.2,201.5 209.5,200.9 206.8,201.0 204.8,202.0 203.0,204.3 202.4,207.0 202.8,209.5 204.1,211.5 206.2,213.0 208.5,213.4 210.6,213.0Z"/><path fill-rule="evenodd" fill="#fdaf00" d="M208.5,222.5 206.0,222.4 203.5,221.9 196.5,219.6 193.5,218.1 189.7,215.5 187.5,213.5 185.4,210.0 184.3,207.0 185.5,204.0 187.3,201.0 188.5,199.7 190.5,198.1 196.0,194.8 203.5,192.2 206.5,191.7 209.0,191.7 211.5,192.2 214.0,193.2 215.5,194.3 217.1,196.0 218.7,198.5 219.7,201.0 220.3,204.0 220.2,211.0 219.3,214.5 218.0,217.0 216.4,219.0 214.5,220.7 211.5,222.0 208.5,222.5ZM209.0,213.5 211.5,212.6 213.0,211.3 214.2,209.0 214.5,206.5 213.8,204.0 212.1,202.0 210.0,200.9 207.5,200.7 205.4,201.5 203.5,203.3 202.5,205.5 202.3,208.0 203.0,210.1 204.5,212.1 206.5,213.2 209.0,213.5Z"/><path fill-rule="evenodd" fill="#ff9000" d="M210.5,222.0 208.0,222.3 205.5,222.2 199.0,220.4 194.0,218.2 190.0,215.5 188.3,214.0 186.0,210.5 184.6,207.0 186.1,203.5 188.0,200.5 190.3,198.5 195.0,195.5 199.0,193.8 204.5,192.2 207.5,191.9 210.5,192.2 213.5,193.2 215.5,194.5 218.0,197.5 219.5,201.0 220.1,204.5 219.9,211.5 218.7,215.5 216.5,218.7 214.0,220.8 210.5,222.0ZM209.6,213.5 211.9,212.5 213.5,210.8 214.5,208.5 214.5,206.0 213.6,203.5 212.0,201.8 210.0,200.8 207.5,200.6 205.2,201.5 203.5,203.1 202.4,205.5 202.2,208.0 203.1,210.5 204.9,212.5 207.2,213.5 209.6,213.5Z"/><path fill-rule="evenodd" fill="#ff6e00" d="M209.5,222.0 207.0,222.1 204.5,221.8 197.0,219.4 194.0,217.9 188.5,213.9 186.3,210.5 184.9,207.0 186.4,203.5 188.3,200.5 190.7,198.5 195.5,195.4 199.5,193.9 205.0,192.3 208.0,192.1 211.0,192.5 214.0,193.6 216.0,195.3 218.4,198.5 219.7,202.5 220.0,204.5 220.0,209.5 219.5,212.7 218.0,216.4 215.5,219.4 213.0,221.0 209.5,222.0ZM210.1,213.5 212.0,212.6 213.8,210.5 214.7,208.0 214.5,205.5 213.5,203.2 211.8,201.5 209.5,200.6 207.0,200.6 204.5,201.9 203.0,203.7 202.1,206.5 202.3,209.0 203.5,211.3 205.5,213.0 207.5,213.7 210.1,213.5Z"/><path fill-rule="evenodd" fill="#ff4800" d="M211.0,221.5 208.0,221.9 205.5,221.8 199.5,220.1 194.5,218.0 188.9,214.0 186.8,211.0 185.2,207.0 186.7,203.5 188.6,200.5 191.0,198.5 195.8,195.5 199.7,194.0 204.9,192.5 207.5,192.2 210.2,192.5 213.3,193.5 215.5,195.0 218.2,198.5 219.5,202.2 219.8,205.0 219.6,211.5 218.5,215.0 216.5,218.1 214.5,220.1 211.0,221.5ZM210.4,213.5 212.5,212.3 214.2,210.0 214.8,207.5 214.5,205.0 213.1,202.5 211.0,200.9 208.5,200.3 206.0,200.8 204.0,202.2 202.5,204.5 202.0,207.0 202.4,209.5 203.5,211.5 205.5,213.1 208.0,213.8 210.4,213.5Z"/><path fill-rule="evenodd" fill="#ff2600" d="M210.0,221.5 205.0,221.5 198.5,219.5 194.9,218.0 190.5,215.0 188.8,213.5 187.0,210.7 185.5,207.0 187.0,203.5 188.9,200.5 191.4,198.5 196.4,195.5 200.3,194.0 206.3,192.5 209.0,192.5 211.4,193.0 213.9,194.0 215.7,195.5 218.0,198.5 219.0,200.9 219.5,202.9 219.5,211.3 218.5,214.6 217.5,216.5 216.0,218.4 213.3,220.5 210.0,221.5ZM210.7,213.5 212.9,212.0 214.3,210.0 214.9,208.0 214.8,205.5 213.7,203.0 212.0,201.3 209.5,200.3 207.0,200.4 205.0,201.2 202.8,203.5 201.9,206.5 202.2,209.5 203.4,211.5 205.5,213.3 208.0,213.9 210.0,213.8 210.7,213.5Z"/><path fill-rule="evenodd" fill="#fd1c00" d="M210.0,221.0 206.0,221.1 200.0,219.8 195.0,217.4 189.7,213.5 187.7,210.5 186.3,207.0 187.8,203.5 189.5,200.9 191.7,199.0 197.0,195.7 200.5,194.3 204.5,193.3 208.0,193.0 210.5,193.3 213.8,194.5 215.5,195.9 217.8,199.0 219.0,202.5 219.3,204.5 219.3,209.0 219.0,211.7 217.9,215.0 215.5,218.3 213.5,219.9 210.0,221.0ZM209.2,214.0 211.5,213.3 213.0,212.2 213.9,211.0 214.9,209.0 214.9,205.5 213.8,203.0 212.0,201.2 210.0,200.3 207.5,200.1 205.0,201.1 203.8,202.0 202.6,203.5 201.8,206.0 201.7,208.0 202.6,210.5 204.5,212.8 206.5,213.9 209.2,214.0Z"/><path fill-rule="evenodd" fill="#fc1200" d="M209.0,220.5 206.0,220.7 203.0,220.3 199.5,219.3 196.5,217.8 190.3,213.0 188.7,210.5 187.5,207.7 187.3,207.0 188.1,205.0 190.5,201.0 196.0,196.7 200.0,194.7 203.5,193.8 206.0,193.6 208.5,193.6 211.5,194.2 213.5,195.0 215.2,196.5 216.8,198.5 218.0,200.9 218.9,204.5 218.9,209.0 218.4,212.0 217.5,214.5 216.0,216.8 214.0,218.8 211.5,220.0 209.0,220.5ZM210.4,214.0 212.5,212.9 214.5,210.5 215.2,208.0 215.0,205.0 213.7,202.5 211.5,200.7 209.0,199.9 206.5,200.1 204.0,201.6 202.5,203.4 201.6,206.0 201.7,208.5 202.6,211.0 203.9,212.5 205.0,213.4 206.0,213.9 208.0,214.3 210.4,214.0Z"/><path fill-rule="evenodd" fill="#fa0900" d="M208.5,220.1 205.5,220.3 203.0,220.0 200.0,219.2 196.6,217.5 194.7,216.0 191.2,212.5 189.7,210.0 188.6,207.5 188.5,207.0 189.3,205.0 191.4,201.5 196.0,197.1 198.0,195.9 200.5,194.8 204.0,194.0 206.5,193.9 209.5,194.3 212.0,195.1 214.0,196.3 215.7,198.0 217.3,200.5 218.2,203.0 218.6,205.5 218.6,209.0 218.1,211.5 216.9,214.5 215.4,216.5 213.5,218.3 211.5,219.3 208.5,220.1ZM209.4,214.5 212.1,213.5 214.0,211.7 215.3,209.0 215.4,206.0 214.5,203.3 212.5,201.0 210.0,199.8 207.5,199.7 206.5,199.9 204.5,200.8 202.8,202.5 201.9,204.0 201.4,205.5 201.3,208.0 202.3,211.0 204.0,213.0 206.0,214.2 207.5,214.5 209.4,214.5Z"/><path fill-rule="evenodd" fill="#f20600" d="M206.5,220.0 203.5,219.9 200.5,219.1 198.0,218.1 196.0,216.8 193.6,214.5 192.1,212.5 191.2,210.5 190.7,208.0 190.7,206.0 191.2,203.5 192.2,201.5 194.8,198.5 197.0,196.7 199.5,195.5 201.5,194.8 205.0,194.2 207.5,194.2 210.0,194.8 212.5,195.8 214.0,196.9 215.6,198.5 217.2,201.0 218.1,203.5 218.4,205.5 218.1,210.5 217.3,213.0 215.7,215.5 213.8,217.5 212.0,218.6 209.0,219.7 206.5,220.0ZM210.5,214.5 212.5,213.5 213.5,212.6 214.5,211.4 215.4,209.5 215.7,208.0 215.6,206.0 214.5,202.8 213.5,201.6 212.2,200.5 209.5,199.5 205.5,199.5 203.4,200.0 201.4,201.0 199.5,202.9 198.5,204.7 198.2,207.5 198.5,209.5 199.0,210.6 200.6,212.5 203.0,214.0 204.4,214.5 207.0,214.8 210.5,214.5Z"/><path fill-rule="evenodd" fill="#e90400" d="M208.5,219.5 206.0,219.8 203.5,219.6 200.9,219.0 198.4,218.0 196.0,216.5 193.9,214.5 192.8,213.0 191.9,211.0 191.4,208.5 191.3,206.0 191.8,203.5 192.6,201.5 194.0,199.6 196.0,197.7 198.0,196.4 200.5,195.3 203.5,194.6 206.0,194.4 208.5,194.7 211.0,195.4 213.0,196.6 215.0,198.4 216.6,200.5 217.7,203.0 218.1,205.5 218.1,209.0 217.6,211.5 216.5,213.9 215.0,215.9 213.1,217.5 211.5,218.5 208.5,219.5ZM209.0,215.0 210.5,214.7 212.1,214.0 213.5,212.9 214.7,211.5 215.5,209.7 215.9,208.0 215.9,206.5 215.5,204.5 214.8,203.0 213.7,201.5 212.5,200.5 211.0,199.7 207.0,199.0 203.5,199.5 200.7,201.0 198.5,203.5 197.6,206.5 198.0,209.5 199.5,212.1 202.0,214.1 205.0,215.1 209.0,215.0Z"/><path fill-rule="evenodd" fill="#e10100" d="M207.0,219.5 204.5,219.5 201.5,218.9 199.0,218.0 196.5,216.5 193.5,213.5 192.3,211.0 191.7,208.5 191.7,206.0 192.2,203.5 193.3,201.0 194.5,199.5 196.5,197.7 198.5,196.4 201.0,195.4 204.5,194.7 207.0,194.7 208.9,195.0 211.0,195.8 213.5,197.4 215.1,199.0 216.5,201.0 217.5,203.3 217.9,205.5 217.9,208.5 217.5,210.9 216.9,212.5 215.5,214.7 213.5,216.8 211.5,218.1 209.6,219.0 207.0,219.5ZM210.2,215.0 212.0,214.3 213.5,213.2 214.6,212.0 215.6,210.0 216.1,208.0 216.1,206.5 215.7,204.5 215.1,203.0 213.0,200.6 211.5,199.7 210.0,199.1 207.5,198.7 205.5,198.8 203.5,199.2 201.6,200.0 199.0,202.2 197.5,205.0 197.3,208.0 198.3,211.0 200.5,213.5 203.5,215.0 206.5,215.5 210.2,215.0Z"/><path fill-rule="evenodd" fill="#c50000" d="M208.5,219.0 206.0,219.3 204.0,219.2 201.0,218.5 198.5,217.5 196.5,216.2 194.6,214.5 193.5,212.9 192.5,210.5 192.0,208.0 192.1,205.5 192.7,203.0 193.7,201.0 194.8,199.5 197.0,197.6 198.9,196.5 201.5,195.5 204.0,195.0 206.5,194.9 208.0,195.1 210.7,196.0 213.0,197.4 214.7,199.0 216.1,201.0 217.2,203.5 217.7,206.0 217.6,209.0 217.1,211.0 216.2,213.0 214.8,215.0 213.0,216.7 211.0,218.0 208.5,219.0ZM209.1,215.5 210.5,215.2 212.5,214.2 214.0,213.0 215.1,211.5 215.8,210.0 216.3,208.0 216.3,206.0 215.8,204.0 214.7,202.0 213.8,201.0 212.5,200.0 211.0,199.2 208.5,198.6 206.5,198.4 204.5,198.6 202.5,199.2 199.7,201.0 197.8,203.5 196.9,206.5 196.9,208.0 197.5,210.0 198.2,211.5 199.5,213.0 202.0,214.8 205.5,215.7 209.1,215.5Z"/><path fill-rule="evenodd" fill="#910000" d="M206.5,219.0 204.5,219.0 202.0,218.5 199.2,217.5 196.7,216.0 195.0,214.5 194.0,213.0 193.0,210.8 192.4,208.0 192.5,205.5 193.0,203.4 194.0,201.2 195.2,199.5 196.9,198.0 198.6,197.0 201.0,196.0 204.5,195.2 208.3,195.5 210.8,196.5 213.1,198.0 215.0,200.0 216.0,201.5 217.0,204.0 217.3,206.0 217.0,210.2 216.0,212.7 214.5,214.8 212.7,216.5 211.2,217.5 208.9,218.5 206.5,219.0ZM208.1,216.0 212.0,214.8 213.5,213.8 214.8,212.5 216.3,209.5 216.7,207.5 216.6,206.0 216.3,204.5 215.3,202.5 214.1,201.0 212.5,199.7 210.5,198.7 208.5,198.2 204.5,198.3 201.0,199.6 198.3,202.0 197.4,203.5 196.7,205.5 196.7,209.0 198.2,212.0 199.5,213.5 201.0,214.6 204.0,215.8 206.0,216.1 208.1,216.0Z"/></g></g><line x1="174.5" y1="50" x2="174.5" y2="263" stroke="#000028" stroke-width="1.4"/><line x1="44" y1="157.6" x2="304.5" y2="157.6" stroke="#000028" stroke-width="1.4"/><rect x="44.5" y="50.5" width="259.5" height="212" fill="none" stroke="#000028" stroke-width="1.2"/>
<line x1="397.62" y1="53.8" x2="397.62" y2="126.6" stroke="#222" stroke-width="1" stroke-dasharray="1 2.2"/><line x1="445.02" y1="53.8" x2="445.02" y2="126.6" stroke="#222" stroke-width="1" stroke-dasharray="1 2.2"/><line x1="488.91" y1="53.8" x2="488.91" y2="126.6" stroke="#222" stroke-width="1" stroke-dasharray="1 2.2"/><line x1="527.53" y1="53.8" x2="527.53" y2="126.6" stroke="#222" stroke-width="1" stroke-dasharray="1 2.2"/><line x1="587.22" y1="53.8" x2="587.22" y2="126.6" stroke="#222" stroke-width="1" stroke-dasharray="1 2.2"/><path d="M359.00,118.20 L359.50,118.44 L360.00,118.68 L360.50,118.91 L361.00,119.14 L361.50,119.36 L362.00,119.57 L362.50,119.78 L363.00,119.98 L363.50,120.18 L364.00,120.36 L364.50,120.54 L365.00,120.71 L365.50,120.87 L366.00,121.02 L366.50,121.18 L367.00,121.35 L367.50,121.51 L368.00,121.67 L368.50,121.83 L369.00,121.99 L369.50,122.14 L370.00,122.27 L370.50,122.40 L371.00,122.51 L371.50,122.61 L372.00,122.69 L372.50,122.75 L373.00,122.79 L373.50,122.80 L374.00,122.79 L374.50,122.76 L375.00,122.71 L375.50,122.64 L376.00,122.55 L376.50,122.45 L377.00,122.33 L377.50,122.21 L378.00,122.07 L378.50,121.92 L379.00,121.76 L379.50,121.60 L380.00,121.43 L380.50,121.25 L381.00,121.08 L381.50,120.90 L382.00,120.69 L382.50,120.42 L383.00,120.10 L383.50,119.74 L384.00,119.34 L384.50,118.92 L385.00,118.49 L385.50,118.04 L386.00,117.60 L386.50,117.17 L387.00,116.76 L387.50,116.37 L388.00,116.02 L388.50,115.71 L389.00,115.46 L389.50,115.27 L390.00,115.09 L390.50,114.92 L391.00,114.76 L391.50,114.60 L392.00,114.44 L392.50,114.29 L393.00,114.15 L393.50,114.02 L394.00,113.90 L394.50,113.80 L395.00,113.71 L395.50,113.63 L396.00,113.57 L396.50,113.53 L397.00,113.50 L397.50,113.50 L398.00,113.53 L398.50,113.59 L399.00,113.67 L399.50,113.78 L400.00,113.91 L400.50,114.06 L401.00,114.23 L401.50,114.42 L402.00,114.61 L402.50,114.82 L403.00,115.04 L403.50,115.27 L404.00,115.50 L404.50,115.74 L405.00,115.97 L405.50,116.20 L406.00,116.43 L406.50,116.66 L407.00,116.89 L407.50,117.15 L408.00,117.45 L408.50,117.78 L409.00,118.14 L409.50,118.51 L410.00,118.90 L410.50,119.31 L411.00,119.72 L411.50,120.13 L412.00,120.55 L412.50,120.96 L413.00,121.36 L413.50,121.75 L414.00,122.12 L414.50,122.47 L415.00,122.79 L415.50,123.09 L416.00,123.35 L416.50,123.57 L417.00,123.75 L417.50,123.89 L418.00,123.97 L418.50,124.00 L419.00,123.97 L419.50,123.89 L420.00,123.76 L420.50,123.58 L421.00,123.35 L421.50,123.08 L422.00,122.77 L422.50,122.43 L423.00,122.05 L423.50,121.65 L424.00,121.21 L424.50,120.75 L425.00,120.27 L425.50,119.77 L426.00,119.26 L426.50,118.73 L427.00,118.19 L427.50,117.64 L428.00,117.10 L428.50,116.55 L429.00,116.00 L429.50,115.38 L430.00,114.63 L430.50,113.76 L431.00,112.80 L431.50,111.77 L432.00,110.68 L432.50,109.57 L433.00,108.44 L433.50,107.33 L434.00,106.25 L434.50,105.22 L435.00,104.27 L435.50,103.41 L436.00,102.66 L436.50,102.05 L437.00,101.60 L437.50,101.24 L438.00,100.88 L438.50,100.53 L439.00,100.20 L439.50,99.88 L440.00,99.57 L440.50,99.29 L441.00,99.02 L441.50,98.77 L442.00,98.55 L442.50,98.35 L443.00,98.18 L443.50,98.03 L444.00,97.92 L444.50,97.85 L445.00,97.81 L445.50,97.81 L446.00,97.90 L446.50,98.08 L447.00,98.34 L447.50,98.68 L448.00,99.09 L448.50,99.56 L449.00,100.08 L449.50,100.66 L450.00,101.27 L450.50,101.91 L451.00,102.57 L451.50,103.26 L452.00,103.95 L452.50,104.64 L453.00,105.33 L453.50,106.03 L454.00,106.84 L454.50,107.76 L455.00,108.77 L455.50,109.84 L456.00,110.97 L456.50,112.12 L457.00,113.30 L457.50,114.47 L458.00,115.62 L458.50,116.73 L459.00,117.78 L459.50,118.76 L460.00,119.66 L460.50,120.62 L461.00,121.64 L461.50,122.66 L462.00,123.64 L462.50,124.53 L463.00,125.27 L463.50,125.83 L464.00,126.14 L464.50,126.18 L465.00,126.00 L465.50,125.62 L466.00,125.08 L466.50,124.39 L467.00,123.57 L467.50,122.64 L468.00,121.62 L468.50,120.53 L469.00,119.39 L469.50,118.22 L470.00,117.04 L470.50,115.86 L471.00,114.52 L471.50,112.96 L472.00,111.20 L472.50,109.27 L473.00,107.21 L473.50,105.06 L474.00,102.83 L474.50,100.56 L475.00,98.28 L475.50,96.02 L476.00,93.82 L476.50,91.70 L477.00,89.70 L477.50,87.70 L478.00,85.60 L478.50,83.45 L479.00,81.28 L479.50,79.14 L480.00,77.08 L480.50,75.14 L481.00,73.36 L481.50,71.78 L482.00,70.46 L482.50,69.40 L483.00,68.40 L483.50,67.42 L484.00,66.47 L484.50,65.55 L485.00,64.69 L485.50,63.90 L486.00,63.18 L486.50,62.54 L487.00,62.01 L487.50,61.59 L488.00,61.29 L488.50,61.13 L489.00,61.12 L489.50,61.28 L490.00,61.61 L490.50,62.09 L491.00,62.70 L491.50,63.42 L492.00,64.24 L492.50,65.13 L493.00,66.08 L493.50,67.08 L494.00,68.09 L494.50,69.17 L495.00,70.55 L495.50,72.20 L496.00,74.07 L496.50,76.13 L497.00,78.32 L497.50,80.60 L498.00,82.93 L498.50,85.25 L499.00,87.52 L499.50,89.70 L500.00,91.91 L500.50,94.26 L501.00,96.72 L501.50,99.22 L502.00,101.73 L502.50,104.19 L503.00,106.55 L503.50,108.77 L504.00,110.79 L504.50,112.57 L505.00,114.09 L505.50,115.58 L506.00,117.08 L506.50,118.55 L507.00,119.95 L507.50,121.25 L508.00,122.41 L508.50,123.39 L509.00,124.16 L509.50,124.67 L510.00,124.89 L510.50,124.85 L511.00,124.67 L511.50,124.37 L512.00,123.97 L512.50,123.49 L513.00,122.95 L513.50,122.36 L514.00,121.74 L514.50,121.13 L515.00,120.52 L515.50,119.94 L516.00,119.42 L516.50,118.96 L517.00,118.57 L517.50,118.17 L518.00,117.77 L518.50,117.35 L519.00,116.93 L519.50,116.50 L520.00,116.08 L520.50,115.66 L521.00,115.24 L521.50,114.84 L522.00,114.44 L522.50,114.06 L523.00,113.70 L523.50,113.36 L524.00,113.04 L524.50,112.75 L525.00,112.49 L525.50,112.26 L526.00,112.07 L526.50,111.91 L527.00,111.80 L527.50,111.72 L528.00,111.70 L528.50,111.73 L529.00,111.80 L529.50,111.91 L530.00,112.06 L530.50,112.25 L531.00,112.46 L531.50,112.70 L532.00,112.96 L532.50,113.23 L533.00,113.51 L533.50,113.80 L534.00,114.09 L534.50,114.38 L535.00,114.66 L535.50,114.96 L536.00,115.29 L536.50,115.65 L537.00,116.04 L537.50,116.44 L538.00,116.86 L538.50,117.30 L539.00,117.74 L539.50,118.18 L540.00,118.62 L540.50,119.06 L541.00,119.49 L541.50,119.90 L542.00,120.30 L542.50,120.67 L543.00,121.05 L543.50,121.45 L544.00,121.85 L544.50,122.25 L545.00,122.64 L545.50,123.02 L546.00,123.39 L546.50,123.72 L547.00,124.02 L547.50,124.28 L548.00,124.50 L548.50,124.66 L549.00,124.81 L549.50,124.95 L550.00,125.08 L550.50,125.20 L551.00,125.31 L551.50,125.41 L552.00,125.50 L552.50,125.58 L553.00,125.66 L553.50,125.72 L554.00,125.77 L554.50,125.82 L555.00,125.86 L555.50,125.90 L556.00,125.93 L556.50,125.97 L557.00,126.00 L557.50,126.03 L558.00,126.05 L558.50,126.07 L559.00,126.09 L559.50,126.10 L560.00,126.10 L560.50,126.10 L561.00,126.10 L561.50,126.10 L562.00,126.10 L562.50,126.10 L563.00,126.10 L563.50,126.10 L564.00,126.10 L564.50,126.10 L565.00,126.10 L565.50,126.10 L566.00,126.10 L566.50,126.10 L567.00,126.10 L567.50,126.10 L568.00,126.10 L568.50,126.10 L569.00,126.10 L569.50,126.10 L570.00,126.10 L570.50,126.10 L571.00,126.10 L571.50,126.10 L572.00,126.10 L572.50,126.10 L573.00,126.10 L573.50,126.10 L574.00,126.10 L574.50,126.10 L575.00,126.10 L575.50,126.10 L576.00,126.10 L576.50,126.10 L577.00,126.10 L577.50,126.10 L578.00,126.10 L578.50,126.10 L579.00,126.10 L579.50,126.10 L580.00,126.10 L580.50,126.10 L581.00,126.10 L581.50,126.10 L582.00,126.10 L582.50,126.10 L583.00,126.10 L583.50,126.10 L584.00,126.10 L584.50,126.10 L585.00,126.10 L585.50,126.10 L586.00,126.10 L586.50,126.10 L587.00,126.10 L587.50,126.10 L588.00,126.10 L588.50,126.10 L589.00,126.10 L589.50,126.10 L590.00,126.10 L590.50,126.10 L591.00,126.10 L591.50,126.10 L592.00,126.10 L592.50,126.10 L593.00,126.10 L593.50,126.10 L594.00,126.10 L594.50,126.10 L595.00,126.10 L595.50,126.10 L596.00,126.10 L596.50,126.10 L597.00,126.10 L597.50,126.10 L598.00,126.10 L598.50,126.10 L599.00,126.10 L599.50,126.10 L600.00,126.10 L600.50,126.10 L601.00,126.10 L601.50,126.10 L602.00,126.10 L602.50,126.10 L603.00,126.10 L603.50,126.10 L604.00,126.10 L604.50,126.10 L605.00,126.10 L605.50,126.10 L606.00,126.10 L606.50,126.10 L607.00,126.10 L607.50,126.10 L608.00,126.10 L608.50,126.10 L609.00,126.10 L609.50,126.10 L610.00,126.10 L610.50,126.10 L611.00,126.10 L611.50,126.10 L612.00,126.10 L612.50,126.10 L613.00,126.10 L613.50,126.10 L614.00,126.10 L614.50,126.10 L615.00,126.10 L615.50,126.10 L616.00,126.10 L616.50,126.10 L617.00,126.10 L617.50,126.10 L618.00,126.10 L618.50,126.10 L619.00,126.10 L619.50,126.10 L620.00,126.10 L620.50,126.10 L621.00,126.10 L621.50,126.10 L622.00,126.10 L622.50,126.10 L623.00,126.10 L623.50,126.10 L624.00,126.10 L624.50,126.10 L625.00,126.10 L625.50,126.10 L626.00,126.10 L626.50,126.10 L627.00,126.10 L627.50,126.10 L628.00,126.10 L628.50,126.10 L629.00,126.10 L629.50,126.10 L630.00,126.10 L630.50,126.10 L631.00,126.10 L631.50,126.10 L632.00,126.10 L632.50,126.10 L633.00,126.10 L633.50,126.10 L634.00,126.10 L634.50,126.10 L635.00,126.10 L635.50,126.10 L636.00,126.10 L636.50,126.10 L637.00,126.10 L637.50,126.10 L638.00,126.10 L638.50,126.10 L639.00,126.10 L639.50,126.10 L640.00,126.10 L640.50,126.10 L641.00,126.10 L641.50,126.10 L642.00,126.10 L642.50,126.10 L643.00,126.10 L643.50,126.10 L644.00,126.10 L644.50,126.10 L645.00,126.10 L645.50,126.10 L646.00,126.10 L646.50,126.10 L647.00,126.10 L647.50,126.10 L648.00,126.10 L648.50,126.10 L649.00,126.10 L649.50,126.10 L650.00,126.10 L650.50,126.10 L651.00,126.10 L651.50,126.10 L652.00,126.10 L652.50,126.10 L653.00,126.10 L653.50,126.10 L654.00,126.10 L654.50,126.10 L655.00,126.10 L655.50,126.10 L656.00,126.10 L656.50,126.10 L657.00,126.10 L657.50,126.10 L658.00,126.10 L658.50,126.10 L659.00,126.10 L659.50,126.10 L660.00,126.10 L660.50,126.10 L661.00,126.10 L661.50,126.10 L662.00,126.10 L662.50,126.10 L663.00,126.10 L663.50,126.10 L664.00,126.10 L664.50,126.10 L665.00,126.10 L665.50,126.10 L666.00,126.10 L666.50,126.10 L667.00,126.10 L667.50,126.10 L668.00,126.10 L668.50,126.10 L669.00,126.10 L669.50,126.10 L670.00,126.10 L670.50,126.10 L671.00,126.10 L671.50,126.10 L672.00,126.10 L672.50,126.10 L673.00,126.10 L673.50,126.10 L674.00,126.10 L674.50,126.10 L675.00,126.10" fill="none" stroke="#111" stroke-width="2.3" stroke-linejoin="round"/><rect x="601.8" y="124.2" width="48.5" height="3.2" fill="#111"/><rect x="613.8" y="126.2" width="16.5" height="0.9" fill="#999"/><rect x="359" y="53.8" width="316" height="72.8" fill="none" stroke="#111" stroke-width="1.2"/><line x1="359" y1="90.19999999999999" x2="362" y2="90.19999999999999" stroke="#222" stroke-width="1"/><line x1="675" y1="90.19999999999999" x2="672" y2="90.19999999999999" stroke="#222" stroke-width="1"/><line x1="397.62" y1="126.6" x2="397.62" y2="123.6" stroke="#222" stroke-width="1"/><line x1="445.02" y1="126.6" x2="445.02" y2="123.6" stroke="#222" stroke-width="1"/><line x1="488.91" y1="126.6" x2="488.91" y2="123.6" stroke="#222" stroke-width="1"/><line x1="527.53" y1="126.6" x2="527.53" y2="123.6" stroke="#222" stroke-width="1"/><line x1="587.22" y1="126.6" x2="587.22" y2="123.6" stroke="#222" stroke-width="1"/><line x1="387.01" y1="188.7" x2="387.01" y2="260.3" stroke="#222" stroke-width="1" stroke-dasharray="1 2.2"/><line x1="451.63" y1="188.7" x2="451.63" y2="260.3" stroke="#222" stroke-width="1" stroke-dasharray="1 2.2"/><line x1="516.25" y1="188.7" x2="516.25" y2="260.3" stroke="#222" stroke-width="1" stroke-dasharray="1 2.2"/><line x1="580.87" y1="188.7" x2="580.87" y2="260.3" stroke="#222" stroke-width="1" stroke-dasharray="1 2.2"/><line x1="645.49" y1="188.7" x2="645.49" y2="260.3" stroke="#222" stroke-width="1" stroke-dasharray="1 2.2"/><path d="M359.00,239.94 L359.32,239.94 L359.65,239.94 L359.97,239.94 L360.29,239.94 L360.62,239.94 L360.94,239.94 L361.26,239.94 L361.58,239.94 L361.91,239.94 L362.23,239.94 L362.55,239.94 L362.88,239.94 L363.20,239.94 L363.52,239.94 L363.85,239.94 L364.17,239.94 L364.49,239.94 L364.82,239.94 L365.14,239.94 L365.46,239.94 L365.79,239.94 L366.11,239.94 L366.43,239.94 L366.75,239.94 L367.08,239.94 L367.40,239.94 L367.72,239.94 L368.05,239.94 L368.37,239.94 L368.69,239.94 L369.02,239.94 L369.34,239.94 L369.66,239.94 L369.99,239.94 L370.31,239.94 L370.63,239.94 L370.95,239.94 L371.28,239.94 L371.60,239.94 L371.92,239.94 L372.25,239.94 L372.57,239.94 L372.89,239.94 L373.22,239.94 L373.54,239.94 L373.86,239.94 L374.19,239.94 L374.51,239.94 L374.83,239.94 L375.16,239.94 L375.48,239.94 L375.80,239.94 L376.12,239.94 L376.45,239.94 L376.77,239.94 L377.09,239.94 L377.42,239.94 L377.74,239.94 L378.06,239.94 L378.39,239.94 L378.71,239.94 L379.03,239.94 L379.36,239.94 L379.68,239.94 L380.00,239.94 L380.32,239.94 L380.65,239.94 L380.97,239.94 L381.29,239.94 L381.62,239.94 L381.94,239.94 L382.26,239.94 L382.59,239.94 L382.91,239.94 L383.23,239.94 L383.56,239.94 L383.88,239.94 L384.20,239.94 L384.52,239.94 L384.85,239.94 L385.17,239.94 L385.49,239.94 L385.82,239.94 L386.14,239.94 L386.46,239.94 L386.79,239.94 L387.11,239.94 L387.43,239.94 L387.76,239.94 L388.08,239.94 L388.40,239.94 L388.73,239.94 L389.05,239.94 L389.37,239.94 L389.69,239.94 L390.02,239.94 L390.34,239.94 L390.66,239.94 L390.99,239.94 L391.31,239.94 L391.63,239.94 L391.96,239.94 L392.28,239.94 L392.60,239.94 L392.93,239.94 L393.25,239.94 L393.57,239.94 L393.89,239.94 L394.22,239.94 L394.54,239.94 L394.86,239.94 L395.19,239.94 L395.51,239.94 L395.83,239.94 L396.16,239.94 L396.48,239.94 L396.80,239.94 L397.13,239.94 L397.45,239.94 L397.77,239.94 L398.10,239.94 L398.42,239.94 L398.74,239.94 L399.06,239.94 L399.39,239.94 L399.71,239.94 L400.03,239.94 L400.36,239.94 L400.68,239.94 L401.00,239.94 L401.33,239.94 L401.65,239.94 L401.97,239.94 L402.30,239.94 L402.62,239.94 L402.94,239.94 L403.26,239.94 L403.59,239.94 L403.91,239.94 L404.23,239.94 L404.56,239.94 L404.88,239.94 L405.20,239.94 L405.53,239.94 L405.85,239.94 L406.17,239.94 L406.50,239.94 L406.82,239.94 L407.14,239.94 L407.47,239.94 L407.79,239.94 L408.11,239.94 L408.43,239.94 L408.76,239.94 L409.08,239.94 L409.40,239.94 L409.73,239.94 L410.05,239.94 L410.37,239.94 L410.70,239.94 L411.02,239.94 L411.34,239.94 L411.67,239.94 L411.99,239.94 L412.31,239.94 L412.63,239.94 L412.96,239.94 L413.28,239.94 L413.60,239.94 L413.93,239.94 L414.25,239.94 L414.57,239.94 L414.90,239.94 L415.22,239.94 L415.54,239.94 L415.87,239.94 L416.19,239.94 L416.51,239.94 L416.83,239.94 L417.16,239.94 L417.48,239.94 L417.80,239.94 L418.13,239.94 L418.45,239.94 L418.77,239.94 L419.10,239.94 L419.42,239.94 L419.74,239.94 L420.07,239.94 L420.39,239.94 L420.71,239.94 L421.04,239.94 L421.36,239.94 L421.68,239.94 L422.00,239.94 L422.33,239.94 L422.65,239.94 L422.97,239.94 L423.30,239.94 L423.62,239.94 L423.94,239.94 L424.27,239.94 L424.59,239.94 L424.91,239.94 L425.24,239.94 L425.56,239.94 L425.88,239.94 L426.20,239.94 L426.53,239.94 L426.85,239.94 L427.17,239.94 L427.50,239.94 L427.82,239.94 L428.14,239.94 L428.47,239.94 L428.79,239.94 L429.11,239.94 L429.44,239.94 L429.76,239.94 L430.08,239.94 L430.41,239.94 L430.73,239.94 L431.05,239.94 L431.37,239.94 L431.70,239.94 L432.02,239.94 L432.34,239.94 L432.67,239.94 L432.99,239.94 L433.31,239.94 L433.64,239.94 L433.96,239.94 L434.28,239.94 L434.61,239.94 L434.93,239.94 L435.25,239.94 L435.57,239.94 L435.90,239.94 L436.22,239.94 L436.54,239.94 L436.87,239.94 L437.19,239.94 L437.51,239.94 L437.84,239.94 L438.16,239.94 L438.48,239.94 L438.81,239.94 L439.13,239.94 L439.45,239.94 L439.78,239.94 L440.10,239.94 L440.42,239.94 L440.74,239.94 L441.07,239.94 L441.39,239.94 L441.71,239.94 L442.04,239.94 L442.36,239.94 L442.68,239.94 L443.01,239.94 L443.33,239.94 L443.65,239.94 L443.98,239.93 L444.30,239.93 L444.62,239.93 L444.94,239.93 L445.27,239.93 L445.59,239.93 L445.91,239.93 L446.24,239.93 L446.56,239.93 L446.88,239.93 L447.21,239.93 L447.53,239.93 L447.85,239.93 L448.18,239.93 L448.50,239.93 L448.82,239.93 L449.14,239.94 L449.47,239.94 L449.79,239.94 L450.11,239.94 L450.44,239.94 L450.76,239.94 L451.08,239.95 L451.41,239.95 L451.73,239.95 L452.05,239.95 L452.38,239.96 L452.70,239.96 L453.02,239.96 L453.35,239.96 L453.67,239.96 L453.99,239.96 L454.31,239.96 L454.64,239.96 L454.96,239.95 L455.28,239.95 L455.61,239.95 L455.93,239.94 L456.25,239.93 L456.58,239.93 L456.90,239.92 L457.22,239.91 L457.55,239.90 L457.87,239.89 L458.19,239.88 L458.51,239.87 L458.84,239.87 L459.16,239.86 L459.48,239.85 L459.81,239.85 L460.13,239.85 L460.45,239.85 L460.78,239.85 L461.10,239.86 L461.42,239.86 L461.75,239.88 L462.07,239.89 L462.39,239.91 L462.72,239.93 L463.04,239.95 L463.36,239.98 L463.68,240.01 L464.01,240.04 L464.33,240.07 L464.65,240.10 L464.98,240.13 L465.30,240.16 L465.62,240.18 L465.95,240.20 L466.27,240.22 L466.59,240.23 L466.92,240.23 L467.24,240.23 L467.56,240.21 L467.88,240.19 L468.21,240.16 L468.53,240.11 L468.85,240.06 L469.18,240.00 L469.50,239.93 L469.82,239.85 L470.15,239.76 L470.47,239.68 L470.79,239.58 L471.12,239.49 L471.44,239.40 L471.76,239.32 L472.09,239.24 L472.41,239.18 L472.73,239.12 L473.05,239.09 L473.38,239.07 L473.70,239.08 L474.02,239.10 L474.35,239.16 L474.67,239.23 L474.99,239.34 L475.32,239.47 L475.64,239.62 L475.96,239.80 L476.29,240.00 L476.61,240.21 L476.93,240.44 L477.25,240.67 L477.58,240.90 L477.90,241.13 L478.22,241.35 L478.55,241.55 L478.87,241.73 L479.19,241.87 L479.52,241.97 L479.84,242.02 L480.16,242.03 L480.49,241.98 L480.81,241.87 L481.13,241.70 L481.45,241.46 L481.78,241.17 L482.10,240.81 L482.42,240.40 L482.75,239.95 L483.07,239.45 L483.39,238.92 L483.72,238.37 L484.04,237.82 L484.36,237.28 L484.69,236.75 L485.01,236.26 L485.33,235.83 L485.66,235.46 L485.98,235.17 L486.30,234.98 L486.62,234.89 L486.95,234.92 L487.27,235.07 L487.59,235.34 L487.92,235.74 L488.24,236.27 L488.56,236.91 L488.89,237.67 L489.21,238.52 L489.53,239.45 L489.86,240.45 L490.18,241.48 L490.50,242.52 L490.82,243.56 L491.15,244.55 L491.47,245.47 L491.79,246.29 L492.12,246.98 L492.44,247.51 L492.76,247.87 L493.09,248.03 L493.41,247.97 L493.73,247.68 L494.06,247.16 L494.38,246.39 L494.70,245.40 L495.03,244.17 L495.35,242.75 L495.67,241.14 L495.99,239.37 L496.32,237.49 L496.64,235.52 L496.96,233.52 L497.29,231.52 L497.61,229.59 L497.93,227.76 L498.26,226.08 L498.58,224.61 L498.90,223.38 L499.23,222.44 L499.55,221.81 L499.87,221.53 L500.19,221.62 L500.52,222.08 L500.84,222.92 L501.16,224.12 L501.49,225.68 L501.81,227.56 L502.13,229.73 L502.46,232.13 L502.78,234.73 L503.10,237.44 L503.43,240.22 L503.75,242.98 L504.07,245.66 L504.40,248.18 L504.72,250.47 L505.04,252.46 L505.36,254.09 L505.69,255.30 L506.01,256.04 L506.33,256.27 L506.66,255.98 L506.98,255.14 L507.30,253.75 L507.63,251.83 L507.95,249.41 L508.27,246.52 L508.60,243.22 L508.92,239.57 L509.24,235.66 L509.56,231.55 L509.89,227.35 L510.21,223.15 L510.53,219.04 L510.86,215.13 L511.18,211.51 L511.50,208.27 L511.83,205.49 L512.15,203.24 L512.47,201.59 L512.80,200.58 L513.12,200.24 L513.44,200.60 L513.76,201.64 L514.09,203.35 L514.41,205.70 L514.73,208.64 L515.06,212.09 L515.38,215.98 L515.70,220.22 L516.03,224.71 L516.35,229.33 L516.67,233.97 L517.00,238.52 L517.32,242.87 L517.64,246.90 L517.97,250.51 L518.29,253.62 L518.61,256.13 L518.93,257.98 L519.26,259.13 L519.58,259.53 L519.90,259.17 L520.23,258.06 L520.55,256.22 L520.87,253.69 L521.20,250.53 L521.52,246.81 L521.84,242.62 L522.17,238.05 L522.49,233.23 L522.81,228.26 L523.13,223.27 L523.46,218.37 L523.78,213.69 L524.10,209.33 L524.43,205.40 L524.75,201.99 L525.07,199.19 L525.40,197.05 L525.72,195.63 L526.04,194.97 L526.37,195.06 L526.69,195.91 L527.01,197.49 L527.34,199.76 L527.66,202.66 L527.98,206.12 L528.30,210.05 L528.63,214.35 L528.95,218.93 L529.27,223.68 L529.60,228.47 L529.92,233.21 L530.24,237.77 L530.57,242.07 L530.89,246.00 L531.21,249.48 L531.54,252.44 L531.86,254.82 L532.18,256.59 L532.50,257.72 L532.83,258.19 L533.15,258.01 L533.47,257.21 L533.80,255.82 L534.12,253.89 L534.44,251.50 L534.77,248.70 L535.09,245.58 L535.41,242.22 L535.74,238.73 L536.06,235.18 L536.38,231.68 L536.71,228.30 L537.03,225.13 L537.35,222.24 L537.67,219.70 L538.00,217.56 L538.32,215.87 L538.64,214.66 L538.97,213.94 L539.29,213.72 L539.61,213.99 L539.94,214.74 L540.26,215.93 L540.58,217.53 L540.91,219.49 L541.23,221.75 L541.55,224.24 L541.87,226.92 L542.20,229.70 L542.52,232.52 L542.84,235.32 L543.17,238.03 L543.49,240.60 L543.81,242.97 L544.14,245.10 L544.46,246.95 L544.78,248.48 L545.11,249.69 L545.43,250.56 L545.75,251.08 L546.07,251.27 L546.40,251.12 L546.72,250.68 L547.04,249.95 L547.37,248.98 L547.69,247.81 L548.01,246.46 L548.34,244.99 L548.66,243.44 L548.98,241.85 L549.31,240.27 L549.63,238.73 L549.95,237.27 L550.28,235.92 L550.60,234.71 L550.92,233.66 L551.24,232.80 L551.57,232.12 L551.89,231.65 L552.21,231.38 L552.54,231.31 L552.86,231.43 L553.18,231.72 L553.51,232.17 L553.83,232.77 L554.15,233.48 L554.48,234.29 L554.80,235.17 L555.12,236.09 L555.44,237.04 L555.77,237.98 L556.09,238.90 L556.41,239.78 L556.74,240.59 L557.06,241.33 L557.38,241.97 L557.71,242.52 L558.03,242.96 L558.35,243.30 L558.68,243.52 L559.00,243.64 L559.32,243.66 L559.65,243.59 L559.97,243.42 L560.29,243.19 L560.61,242.89 L560.94,242.53 L561.26,242.14 L561.58,241.72 L561.91,241.29 L562.23,240.86 L562.55,240.43 L562.88,240.02 L563.20,239.64 L563.52,239.30 L563.85,239.00 L564.17,238.74 L564.49,238.53 L564.81,238.36 L565.14,238.25 L565.46,238.19 L565.78,238.17 L566.11,238.20 L566.43,238.27 L566.75,238.37 L567.08,238.49 L567.40,238.65 L567.72,238.81 L568.05,239.00 L568.37,239.18 L568.69,239.37 L569.02,239.56 L569.34,239.74 L569.66,239.91 L569.98,240.06 L570.31,240.19 L570.63,240.31 L570.95,240.41 L571.28,240.48 L571.60,240.54 L571.92,240.57 L572.25,240.59 L572.57,240.59 L572.89,240.57 L573.22,240.54 L573.54,240.50 L573.86,240.44 L574.18,240.38 L574.51,240.32 L574.83,240.25 L575.15,240.18 L575.48,240.11 L575.80,240.04 L576.12,239.98 L576.45,239.92 L576.77,239.87 L577.09,239.83 L577.42,239.79 L577.74,239.76 L578.06,239.74 L578.38,239.72 L578.71,239.72 L579.03,239.71 L579.35,239.72 L579.68,239.73 L580.00,239.74 L580.32,239.76 L580.65,239.78 L580.97,239.80 L581.29,239.82 L581.62,239.84 L581.94,239.87 L582.26,239.89 L582.59,239.91 L582.91,239.93 L583.23,239.94 L583.55,239.96 L583.88,239.97 L584.20,239.98 L584.52,239.99 L584.85,240.00 L585.17,240.00 L585.49,240.00 L585.82,240.00 L586.14,240.00 L586.46,240.00 L586.79,239.99 L587.11,239.99 L587.43,239.98 L587.75,239.97 L588.08,239.97 L588.40,239.96 L588.72,239.95 L589.05,239.95 L589.37,239.94 L589.69,239.94 L590.02,239.93 L590.34,239.93 L590.66,239.93 L590.99,239.92 L591.31,239.92 L591.63,239.92 L591.96,239.92 L592.28,239.92 L592.60,239.92 L592.92,239.92 L593.25,239.92 L593.57,239.92 L593.89,239.92 L594.22,239.93 L594.54,239.93 L594.86,239.93 L595.19,239.93 L595.51,239.93 L595.83,239.93 L596.16,239.94 L596.48,239.94 L596.80,239.94 L597.12,239.94 L597.45,239.94 L597.77,239.94 L598.09,239.94 L598.42,239.94 L598.74,239.94 L599.06,239.94 L599.39,239.94 L599.71,239.94 L600.03,239.94 L600.36,239.94 L600.68,239.94 L601.00,239.94 L601.33,239.94 L601.65,239.94 L601.97,239.94 L602.29,239.94 L602.62,239.94 L602.94,239.94 L603.26,239.94 L603.59,239.94 L603.91,239.94 L604.23,239.94 L604.56,239.94 L604.88,239.94 L605.20,239.94 L605.53,239.94 L605.85,239.94 L606.17,239.94 L606.49,239.94 L606.82,239.94 L607.14,239.94 L607.46,239.94 L607.79,239.94 L608.11,239.94 L608.43,239.94 L608.76,239.94 L609.08,239.94 L609.40,239.94 L609.73,239.94 L610.05,239.94 L610.37,239.94 L610.69,239.94 L611.02,239.94 L611.34,239.94 L611.66,239.94 L611.99,239.94 L612.31,239.94 L612.63,239.94 L612.96,239.94 L613.28,239.94 L613.60,239.94 L613.93,239.94 L614.25,239.94 L614.57,239.94 L614.90,239.94 L615.22,239.94 L615.54,239.94 L615.86,239.94 L616.19,239.94 L616.51,239.94 L616.83,239.94 L617.16,239.94 L617.48,239.94 L617.80,239.94 L618.13,239.94 L618.45,239.94 L618.77,239.94 L619.10,239.94 L619.42,239.94 L619.74,239.94 L620.06,239.94 L620.39,239.94 L620.71,239.94 L621.03,239.94 L621.36,239.94 L621.68,239.94 L622.00,239.94 L622.33,239.94 L622.65,239.94 L622.97,239.94 L623.30,239.94 L623.62,239.94 L623.94,239.94 L624.27,239.94 L624.59,239.94 L624.91,239.94 L625.23,239.94 L625.56,239.94 L625.88,239.94 L626.20,239.94 L626.53,239.94 L626.85,239.94 L627.17,239.94 L627.50,239.94 L627.82,239.94 L628.14,239.94 L628.47,239.94 L628.79,239.94 L629.11,239.94 L629.43,239.94 L629.76,239.94 L630.08,239.94 L630.40,239.94 L630.73,239.94 L631.05,239.94 L631.37,239.94 L631.70,239.94 L632.02,239.94 L632.34,239.94 L632.67,239.94 L632.99,239.94 L633.31,239.94 L633.64,239.94 L633.96,239.94 L634.28,239.94 L634.60,239.94 L634.93,239.94 L635.25,239.94 L635.57,239.94 L635.90,239.94 L636.22,239.94 L636.54,239.94 L636.87,239.94 L637.19,239.94 L637.51,239.94 L637.84,239.94 L638.16,239.94 L638.48,239.94 L638.80,239.94 L639.13,239.94 L639.45,239.94 L639.77,239.94 L640.10,239.94 L640.42,239.94 L640.74,239.94 L641.07,239.94 L641.39,239.94 L641.71,239.94 L642.04,239.94 L642.36,239.94 L642.68,239.94 L643.00,239.94 L643.33,239.94 L643.65,239.94 L643.97,239.94 L644.30,239.94 L644.62,239.94 L644.94,239.94 L645.27,239.94 L645.59,239.94 L645.91,239.94 L646.24,239.94 L646.56,239.94 L646.88,239.94 L647.21,239.94 L647.53,239.94 L647.85,239.94 L648.17,239.94 L648.50,239.94 L648.82,239.94 L649.14,239.94 L649.47,239.94 L649.79,239.94 L650.11,239.94 L650.44,239.94 L650.76,239.94 L651.08,239.94 L651.41,239.94 L651.73,239.94 L652.05,239.94 L652.37,239.94 L652.70,239.94 L653.02,239.94 L653.34,239.94 L653.67,239.94 L653.99,239.94 L654.31,239.94 L654.64,239.94 L654.96,239.94 L655.28,239.94 L655.61,239.94 L655.93,239.94 L656.25,239.94 L656.58,239.94 L656.90,239.94 L657.22,239.94 L657.54,239.94 L657.87,239.94 L658.19,239.94 L658.51,239.94 L658.84,239.94 L659.16,239.94 L659.48,239.94 L659.81,239.94 L660.13,239.94 L660.45,239.94 L660.78,239.94 L661.10,239.94 L661.42,239.94 L661.74,239.94 L662.07,239.94 L662.39,239.94 L662.71,239.94 L663.04,239.94 L663.36,239.94 L663.68,239.94 L664.01,239.94 L664.33,239.94 L664.65,239.94 L664.98,239.94 L665.30,239.94 L665.62,239.94 L665.95,239.94 L666.27,239.94 L666.59,239.94 L666.91,239.94 L667.24,239.94 L667.56,239.94 L667.88,239.94 L668.21,239.94 L668.53,239.94 L668.85,239.94 L669.18,239.94 L669.50,239.94 L669.82,239.94 L670.15,239.94 L670.47,239.94 L670.79,239.94 L671.11,239.94 L671.44,239.94 L671.76,239.94 L672.08,239.94 L672.41,239.94 L672.73,239.94 L673.05,239.94 L673.38,239.94 L673.70,239.94 L674.02,239.94 L674.35,239.94 L674.67,239.94 L674.99,239.94" fill="none" stroke="#111" stroke-width="2.3" stroke-linejoin="round"/><rect x="359" y="188.7" width="316" height="71.60000000000002" fill="none" stroke="#111" stroke-width="1.2"/><line x1="359" y1="221.80537634408603" x2="362" y2="221.80537634408603" stroke="#222" stroke-width="1"/><line x1="675" y1="221.80537634408603" x2="672" y2="221.80537634408603" stroke="#222" stroke-width="1"/><line x1="387.01" y1="260.3" x2="387.01" y2="257.3" stroke="#222" stroke-width="1"/><line x1="451.63" y1="260.3" x2="451.63" y2="257.3" stroke="#222" stroke-width="1"/><line x1="516.25" y1="260.3" x2="516.25" y2="257.3" stroke="#222" stroke-width="1"/><line x1="580.87" y1="260.3" x2="580.87" y2="257.3" stroke="#222" stroke-width="1"/><line x1="645.49" y1="260.3" x2="645.49" y2="257.3" stroke="#222" stroke-width="1"/>
<text x="100.8" y="13.4" font-size="19.5" font-family='"Liberation Serif", serif' fill="#000" text-anchor="start" >Max</text><text x="269.8" y="14.8" font-size="19.5" font-family='"Liberation Serif", serif' fill="#000" text-anchor="start" >0</text><text x="47.2" y="63.6" font-size="15.5" font-family='"Liberation Serif", serif' fill="#e8e8ff" text-anchor="start" >(a)</text><text x="179.0" y="65.3" font-size="15.5" font-family='"Liberation Serif", serif' fill="#e8e8ff" text-anchor="start" >(b)</text><text x="46.8" y="172.3" font-size="15.5" font-family='"Liberation Serif", serif' fill="#e8e8ff" text-anchor="start" >(c)</text><text x="174.6" y="171.7" font-size="15.5" font-family='"Liberation Serif", serif' fill="#e8e8ff" text-anchor="start" >(d)</text><text x="86.0" y="152" font-size="13.3" font-family='"Liberation Serif", serif' fill="#e8e8ff"><tspan font-style="italic">I</tspan><tspan font-size="10.3" dy="4.2">P</tspan><tspan dy="-4.2">=1.3 GW/cm</tspan><tspan font-size="10.5" dy="-6.5">2</tspan></text><text x="218.0" y="152" font-size="13.3" font-family='"Liberation Serif", serif' fill="#e8e8ff"><tspan font-style="italic">I</tspan><tspan font-size="10.3" dy="4.2">P</tspan><tspan dy="-4.2">=42 GW/cm</tspan><tspan font-size="10.5" dy="-6.5">2</tspan></text><text x="88.0" y="255.3" font-size="13.3" font-family='"Liberation Serif", serif' fill="#e8e8ff"><tspan font-style="italic">I</tspan><tspan font-size="10.3" dy="4.2">P</tspan><tspan dy="-4.2">=6.6 TW/cm</tspan><tspan font-size="10.5" dy="-6.5">2</tspan></text><text x="223.3" y="255.3" font-size="13.3" font-family='"Liberation Serif", serif' fill="#e8e8ff"><tspan font-style="italic">I</tspan><tspan font-size="10.3" dy="4.2">P</tspan><tspan dy="-4.2">=26 TW/cm</tspan><tspan font-size="10.5" dy="-6.5">2</tspan></text><text x="40.4" y="72.2" font-size="12" font-family='"Liberation Sans", sans-serif' fill="#000" text-anchor="end" stroke="#000" stroke-width="0.35">20</text><text x="40.4" y="89.3" font-size="12" font-family='"Liberation Sans", sans-serif' fill="#000" text-anchor="end" stroke="#000" stroke-width="0.35">10</text><text x="40.4" y="106.6" font-size="12" font-family='"Liberation Sans", sans-serif' fill="#000" text-anchor="end" stroke="#000" stroke-width="0.35">0</text><text x="40.4" y="124.5" font-size="12" font-family='"Liberation Sans", sans-serif' fill="#000" text-anchor="end" stroke="#000" stroke-width="0.35">-10</text><text x="40.4" y="141.10000000000002" font-size="12" font-family='"Liberation Sans", sans-serif' fill="#000" text-anchor="end" stroke="#000" stroke-width="0.35">-20</text><text x="40.4" y="179.20000000000002" font-size="12" font-family='"Liberation Sans", sans-serif' fill="#000" text-anchor="end" stroke="#000" stroke-width="0.35">20</text><text x="40.4" y="196.0" font-size="12" font-family='"Liberation Sans", sans-serif' fill="#000" text-anchor="end" stroke="#000" stroke-width="0.35">10</text><text x="40.4" y="215.10000000000002" font-size="12" font-family='"Liberation Sans", sans-serif' fill="#000" text-anchor="end" stroke="#000" stroke-width="0.35">0</text><text x="40.4" y="232.3" font-size="12" font-family='"Liberation Sans", sans-serif' fill="#000" text-anchor="end" stroke="#000" stroke-width="0.35">-10</text><text x="40.4" y="249.8" font-size="12" font-family='"Liberation Sans", sans-serif' fill="#000" text-anchor="end" stroke="#000" stroke-width="0.35">-20</text><text transform="translate(14.0,102.7) rotate(-90)" font-size="15.4" stroke="#000" stroke-width="0.45" font-family='"Liberation Serif", serif' text-anchor="middle">Delay (fs)</text><text transform="translate(14.0,210.3) rotate(-90)" font-size="15.4" stroke="#000" stroke-width="0.45" font-family='"Liberation Serif", serif' text-anchor="middle">Delay (fs)</text><text x="81.2" y="277" font-size="12" font-family='"Liberation Sans", sans-serif' fill="#000" text-anchor="middle" stroke="#000" stroke-width="0.35">1</text><text x="127.6" y="277" font-size="12" font-family='"Liberation Sans", sans-serif' fill="#000" text-anchor="middle" stroke="#000" stroke-width="0.35">2</text><text x="211.7" y="277" font-size="12" font-family='"Liberation Sans", sans-serif' fill="#000" text-anchor="middle" stroke="#000" stroke-width="0.35">1</text><text x="258.1" y="277" font-size="12" font-family='"Liberation Sans", sans-serif' fill="#000" text-anchor="middle" stroke="#000" stroke-width="0.35">2</text><text x="304.5" y="277" font-size="12" font-family='"Liberation Sans", sans-serif' fill="#000" text-anchor="middle" stroke="#000" stroke-width="0.35">3</text><text x="107.3" y="294.2" font-size="15" font-family='"Liberation Serif", serif' fill="#000" text-anchor="middle" >Energy Loss (eV)</text><text x="237.8" y="294.2" font-size="15" font-family='"Liberation Serif", serif' fill="#000" text-anchor="middle" >Energy Loss (eV)</text><text x="355.4" y="58.6" font-size="15" font-family='"Liberation Serif", serif' fill="#000" text-anchor="end" stroke="#000" stroke-width="0.35">0.2</text><text x="354.6" y="95.5" font-size="15" font-family='"Liberation Serif", serif' fill="#000" text-anchor="end" stroke="#000" stroke-width="0.35">0.1</text><text x="354.9" y="131.5" font-size="15" font-family='"Liberation Serif", serif' fill="#000" text-anchor="end" stroke="#000" stroke-width="0.35">0</text><text x="397.0222222222222" y="143.3" font-size="15" font-family='"Liberation Serif", serif' fill="#000" text-anchor="middle" stroke="#000" stroke-width="0.35">0,42</text><text x="444.4222222222222" y="143.3" font-size="15" font-family='"Liberation Serif", serif' fill="#000" text-anchor="middle" stroke="#000" stroke-width="0.35">0,69</text><text x="488.3111111111111" y="143.3" font-size="15" font-family='"Liberation Serif", serif' fill="#000" text-anchor="middle" stroke="#000" stroke-width="0.35">0,94</text><text x="526.9333333333333" y="143.3" font-size="15" font-family='"Liberation Serif", serif' fill="#000" text-anchor="middle" stroke="#000" stroke-width="0.35">1,16</text><text x="586.6222222222221" y="143.3" font-size="15" font-family='"Liberation Serif", serif' fill="#000" text-anchor="middle" stroke="#000" stroke-width="0.35">1,5</text><text x="674.4" y="143.3" font-size="15" font-family='"Liberation Serif", serif' fill="#000" text-anchor="middle" stroke="#000" stroke-width="0.35">2</text><text x="363.3" y="71.0" font-size="18" font-family='"Liberation Serif", serif' fill="#000" text-anchor="start" stroke="#000" stroke-width="0.15">(e)</text><text x="631.8" y="76.4" font-size="17.5" font-family='"Liberation Serif", serif'><tspan font-style="italic">τ</tspan><tspan font-size="19"> =0</tspan></text><text x="517.2" y="168.5" font-size="15.3" font-family='"Liberation Serif", serif' fill="#000" text-anchor="middle" stroke="#000" stroke-width="0.45">Energy (eV)</text><text x="353.3" y="226.0" font-size="14.5" font-family='"Liberation Serif", serif' fill="#000" text-anchor="end" stroke="#000" stroke-width="0.35">0.1</text><text x="354.4" y="265.0" font-size="14.5" font-family='"Liberation Serif", serif' fill="#000" text-anchor="end" stroke="#000" stroke-width="0.35">0</text><text x="385.01" y="277" font-size="13.5" font-family='"Liberation Sans", sans-serif' fill="#000" text-anchor="middle" stroke="#000" stroke-width="0.35">-40</text><text x="449.63" y="277" font-size="13.5" font-family='"Liberation Sans", sans-serif' fill="#000" text-anchor="middle" stroke="#000" stroke-width="0.35">-20</text><text x="515.45" y="277" font-size="15.5" font-family='"Liberation Serif", serif' fill="#000" text-anchor="middle" stroke="#000" stroke-width="0.35">0</text><text x="580.07" y="277" font-size="15.5" font-family='"Liberation Serif", serif' fill="#000" text-anchor="middle" stroke="#000" stroke-width="0.35">20</text><text x="644.69" y="277" font-size="15.5" font-family='"Liberation Serif", serif' fill="#000" text-anchor="middle" stroke="#000" stroke-width="0.35">40</text><text x="361.5" y="206.5" font-size="17" font-family='"Liberation Serif", serif' fill="#000" text-anchor="start" stroke="#000" stroke-width="0.15">(f)</text><text x="616.8" y="204.6" font-size="17.5" font-family='"Liberation Serif", serif'><tspan font-style="italic">E</tspan><tspan font-size="19"> =1eV</tspan></text><text x="515.3" y="294.5" font-size="15.6" font-family='"Liberation Serif", serif' fill="#000" text-anchor="middle" stroke="#000" stroke-width="0.45">Delay (fs)</text><text transform="translate(326.5,151.3) rotate(-90)" font-size="15" font-weight="bold" font-family='"Liberation Serif", serif' text-anchor="middle">Probability (arb. unit)</text>
</svg>
</body></html>
